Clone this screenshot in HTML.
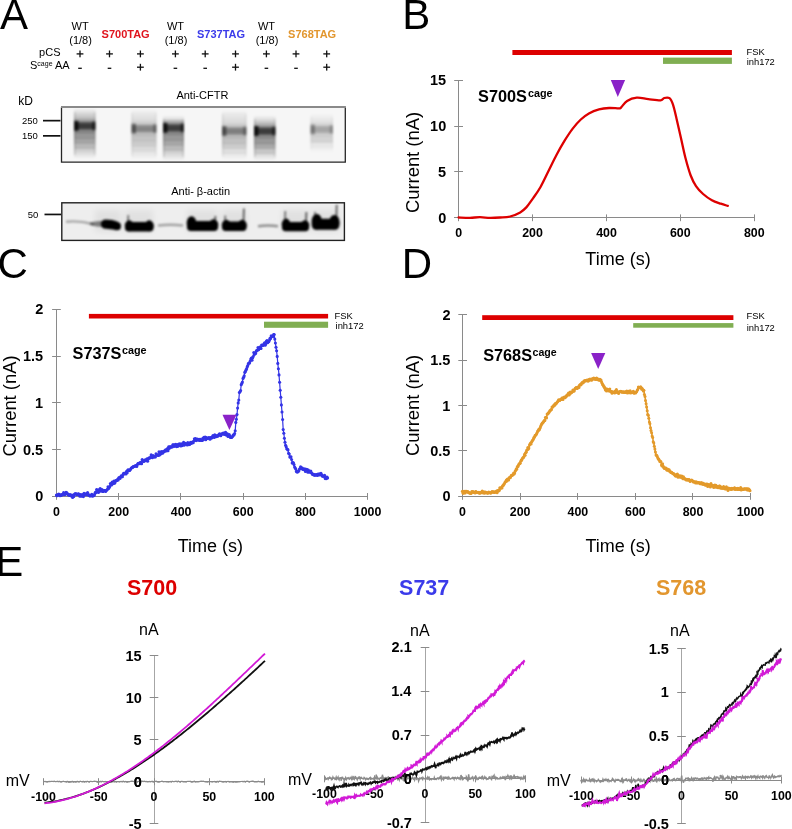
<!DOCTYPE html><html><head><meta charset="utf-8"><style>html,body{margin:0;padding:0;background:#fff;}svg{display:block;will-change:transform;}text{font-family:"Liberation Sans",sans-serif;}</style></head><body>
<svg width="792" height="829" viewBox="0 0 792 829">
<defs><filter id="bl1" x="-50%" y="-50%" width="200%" height="200%"><feGaussianBlur stdDeviation="1.9"/></filter><filter id="bl2" x="-50%" y="-50%" width="200%" height="200%"><feGaussianBlur stdDeviation="2.5"/></filter><filter id="bl05" x="-50%" y="-50%" width="200%" height="200%"><feGaussianBlur stdDeviation="0.8"/></filter></defs>
<rect width="792" height="829" fill="#fff"/>
<text x="-0.08" y="28.80" font-size="42" font-weight="normal" fill="#000" >A</text>
<text x="402.25" y="28.80" font-size="42" font-weight="normal" fill="#000" >B</text>
<text x="-2.63" y="277.90" font-size="42" font-weight="normal" fill="#000" >C</text>
<text x="401.85" y="277.90" font-size="42" font-weight="normal" fill="#000" >D</text>
<text x="-4.65" y="575.80" font-size="42" font-weight="normal" fill="#000" >E</text>
<text x="71.55" y="30.30" font-size="11" font-weight="normal" fill="#000" >WT</text>
<text x="69.29" y="43.60" font-size="11" font-weight="normal" fill="#000" >(1/8)</text>
<text x="166.95" y="30.30" font-size="11" font-weight="normal" fill="#000" >WT</text>
<text x="164.69" y="43.60" font-size="11" font-weight="normal" fill="#000" >(1/8)</text>
<text x="257.95" y="30.30" font-size="11" font-weight="normal" fill="#000" >WT</text>
<text x="255.69" y="43.60" font-size="11" font-weight="normal" fill="#000" >(1/8)</text>
<text x="101.58" y="38.00" font-size="11" font-weight="bold" fill="#e0141e" >S700TAG</text>
<text x="196.98" y="38.00" font-size="11" font-weight="bold" fill="#3b3bea" >S737TAG</text>
<text x="288.08" y="38.00" font-size="11" font-weight="bold" fill="#e2962e" >S768TAG</text>
<text x="39.11" y="56.30" font-size="11" font-weight="normal" fill="#000" >pCS</text>
<text x="30.0" y="68.9" font-size="11" fill="#000">S<tspan font-size="7" dy="-3.2">cage</tspan><tspan dy="3.2"> AA</tspan></text>
<rect x="76.60" y="53.25" width="6.8" height="1.3" fill="#111"/><rect x="79.35" y="50.50" width="1.3" height="6.8" fill="#111"/>
<rect x="78.20" y="67.65" width="3.6" height="1.3" fill="#111"/>
<rect x="106.10" y="53.25" width="6.8" height="1.3" fill="#111"/><rect x="108.85" y="50.50" width="1.3" height="6.8" fill="#111"/>
<rect x="107.70" y="67.65" width="3.6" height="1.3" fill="#111"/>
<rect x="137.00" y="53.25" width="6.8" height="1.3" fill="#111"/><rect x="139.75" y="50.50" width="1.3" height="6.8" fill="#111"/>
<rect x="137.00" y="66.55" width="6.8" height="1.3" fill="#111"/><rect x="139.75" y="63.80" width="1.3" height="6.8" fill="#111"/>
<rect x="172.00" y="53.25" width="6.8" height="1.3" fill="#111"/><rect x="174.75" y="50.50" width="1.3" height="6.8" fill="#111"/>
<rect x="173.60" y="67.65" width="3.6" height="1.3" fill="#111"/>
<rect x="201.80" y="53.25" width="6.8" height="1.3" fill="#111"/><rect x="204.55" y="50.50" width="1.3" height="6.8" fill="#111"/>
<rect x="203.40" y="67.65" width="3.6" height="1.3" fill="#111"/>
<rect x="232.10" y="53.25" width="6.8" height="1.3" fill="#111"/><rect x="234.85" y="50.50" width="1.3" height="6.8" fill="#111"/>
<rect x="232.10" y="66.55" width="6.8" height="1.3" fill="#111"/><rect x="234.85" y="63.80" width="1.3" height="6.8" fill="#111"/>
<rect x="263.00" y="53.25" width="6.8" height="1.3" fill="#111"/><rect x="265.75" y="50.50" width="1.3" height="6.8" fill="#111"/>
<rect x="264.60" y="67.65" width="3.6" height="1.3" fill="#111"/>
<rect x="292.60" y="53.25" width="6.8" height="1.3" fill="#111"/><rect x="295.35" y="50.50" width="1.3" height="6.8" fill="#111"/>
<rect x="294.20" y="67.65" width="3.6" height="1.3" fill="#111"/>
<rect x="323.30" y="53.25" width="6.8" height="1.3" fill="#111"/><rect x="326.05" y="50.50" width="1.3" height="6.8" fill="#111"/>
<rect x="323.30" y="66.55" width="6.8" height="1.3" fill="#111"/><rect x="326.05" y="63.80" width="1.3" height="6.8" fill="#111"/>
<text x="18.29" y="105.20" font-size="12" font-weight="normal" fill="#000" >kD</text>
<text x="22.02" y="124.20" font-size="9.5" font-weight="normal" fill="#000" >250</text>
<text x="22.02" y="139.40" font-size="9.5" font-weight="normal" fill="#000" >150</text>
<rect x="43" y="119.8" width="17.5" height="1.7" fill="#111"/>
<rect x="43" y="135.0" width="17.5" height="1.7" fill="#111"/>
<text x="176.38" y="99.10" font-size="11" font-weight="normal" fill="#000" >Anti-CFTR</text>
<rect x="61.5" y="107" width="283.8" height="55.2" fill="#f6f6f6"/>
<filter id="bl1b" x="-50%" y="-50%" width="200%" height="200%"><feGaussianBlur stdDeviation="1.2"/></filter>
<linearGradient id="lg1" gradientUnits="userSpaceOnUse" x1="0" y1="109" x2="0" y2="158"><stop offset="0.000" stop-color="#000" stop-opacity="0.020"/><stop offset="0.082" stop-color="#000" stop-opacity="0.110"/><stop offset="0.180" stop-color="#000" stop-opacity="0.220"/><stop offset="0.251" stop-color="#000" stop-opacity="0.400"/><stop offset="0.343" stop-color="#000" stop-opacity="0.620"/><stop offset="0.424" stop-color="#000" stop-opacity="0.500"/><stop offset="0.486" stop-color="#000" stop-opacity="0.400"/><stop offset="0.629" stop-color="#000" stop-opacity="0.340"/><stop offset="0.816" stop-color="#000" stop-opacity="0.180"/><stop offset="1.000" stop-color="#000" stop-opacity="0.020"/></linearGradient>
<g filter="url(#bl1b)">
<rect x="74.0" y="109" width="21.5" height="49" fill="url(#lg1)"/>
<rect x="74.0" y="122.3" width="21.5" height="7" fill="#000" opacity="0.440"/>
<rect x="74.0" y="120.8" width="4.5" height="10" fill="#000" opacity="0.750"/>
<rect x="92.0" y="121.3" width="3.5" height="9" fill="#000" opacity="0.450"/>
<rect x="74.0" y="112" width="1.6" height="43" fill="#000" opacity="0.120"/>
<rect x="93.9" y="112" width="1.6" height="43" fill="#000" opacity="0.100"/>
<rect x="75.0" y="131.8" width="19.5" height="1.8" fill="#000" opacity="0.100"/>
<rect x="75.0" y="136.8" width="19.5" height="1.8" fill="#000" opacity="0.100"/>
<rect x="75.0" y="141.8" width="19.5" height="1.8" fill="#000" opacity="0.100"/>
<rect x="75.0" y="146.8" width="19.5" height="1.8" fill="#000" opacity="0.100"/>
</g>
<linearGradient id="lg2" gradientUnits="userSpaceOnUse" x1="0" y1="110" x2="0" y2="159"><stop offset="0.000" stop-color="#000" stop-opacity="0.010"/><stop offset="0.082" stop-color="#000" stop-opacity="0.057"/><stop offset="0.216" stop-color="#000" stop-opacity="0.114"/><stop offset="0.288" stop-color="#000" stop-opacity="0.208"/><stop offset="0.380" stop-color="#000" stop-opacity="0.322"/><stop offset="0.461" stop-color="#000" stop-opacity="0.260"/><stop offset="0.522" stop-color="#000" stop-opacity="0.208"/><stop offset="0.665" stop-color="#000" stop-opacity="0.177"/><stop offset="0.816" stop-color="#000" stop-opacity="0.094"/><stop offset="1.000" stop-color="#000" stop-opacity="0.010"/></linearGradient>
<g filter="url(#bl1b)">
<rect x="131.5" y="110" width="25.0" height="49" fill="url(#lg2)"/>
<rect x="131.5" y="125.1" width="25.0" height="7" fill="#000" opacity="0.229"/>
<rect x="131.5" y="123.6" width="4.5" height="10" fill="#000" opacity="0.390"/>
<rect x="153.0" y="124.1" width="3.5" height="9" fill="#000" opacity="0.234"/>
<rect x="131.5" y="113" width="1.6" height="43" fill="#000" opacity="0.062"/>
<rect x="154.9" y="113" width="1.6" height="43" fill="#000" opacity="0.052"/>
<rect x="132.5" y="134.6" width="23.0" height="1.8" fill="#000" opacity="0.052"/>
<rect x="132.5" y="139.6" width="23.0" height="1.8" fill="#000" opacity="0.052"/>
<rect x="132.5" y="144.6" width="23.0" height="1.8" fill="#000" opacity="0.052"/>
<rect x="132.5" y="149.6" width="23.0" height="1.8" fill="#000" opacity="0.052"/>
</g>
<linearGradient id="lg3" gradientUnits="userSpaceOnUse" x1="0" y1="116" x2="0" y2="160"><stop offset="0.000" stop-color="#000" stop-opacity="0.020"/><stop offset="0.091" stop-color="#000" stop-opacity="0.108"/><stop offset="0.086" stop-color="#000" stop-opacity="0.216"/><stop offset="0.166" stop-color="#000" stop-opacity="0.392"/><stop offset="0.268" stop-color="#000" stop-opacity="0.608"/><stop offset="0.359" stop-color="#000" stop-opacity="0.490"/><stop offset="0.427" stop-color="#000" stop-opacity="0.392"/><stop offset="0.586" stop-color="#000" stop-opacity="0.333"/><stop offset="0.795" stop-color="#000" stop-opacity="0.176"/><stop offset="1.000" stop-color="#000" stop-opacity="0.020"/></linearGradient>
<g filter="url(#bl1b)">
<rect x="163.0" y="116" width="21.0" height="44" fill="url(#lg3)"/>
<rect x="163.0" y="124.3" width="21.0" height="7" fill="#000" opacity="0.431"/>
<rect x="163.0" y="122.8" width="4.5" height="10" fill="#000" opacity="0.735"/>
<rect x="180.5" y="123.3" width="3.5" height="9" fill="#000" opacity="0.441"/>
<rect x="163.0" y="119" width="1.6" height="38" fill="#000" opacity="0.118"/>
<rect x="182.4" y="119" width="1.6" height="38" fill="#000" opacity="0.098"/>
<rect x="164.0" y="133.8" width="19.0" height="1.8" fill="#000" opacity="0.098"/>
<rect x="164.0" y="138.8" width="19.0" height="1.8" fill="#000" opacity="0.098"/>
<rect x="164.0" y="143.8" width="19.0" height="1.8" fill="#000" opacity="0.098"/>
<rect x="164.0" y="148.8" width="19.0" height="1.8" fill="#000" opacity="0.098"/>
</g>
<linearGradient id="lg4" gradientUnits="userSpaceOnUse" x1="0" y1="111" x2="0" y2="159"><stop offset="0.000" stop-color="#000" stop-opacity="0.011"/><stop offset="0.083" stop-color="#000" stop-opacity="0.061"/><stop offset="0.250" stop-color="#000" stop-opacity="0.121"/><stop offset="0.323" stop-color="#000" stop-opacity="0.220"/><stop offset="0.417" stop-color="#000" stop-opacity="0.341"/><stop offset="0.500" stop-color="#000" stop-opacity="0.275"/><stop offset="0.562" stop-color="#000" stop-opacity="0.220"/><stop offset="0.708" stop-color="#000" stop-opacity="0.187"/><stop offset="0.812" stop-color="#000" stop-opacity="0.099"/><stop offset="1.000" stop-color="#000" stop-opacity="0.011"/></linearGradient>
<g filter="url(#bl1b)">
<rect x="222.0" y="111" width="24.5" height="48" fill="url(#lg4)"/>
<rect x="222.0" y="127.5" width="24.5" height="7" fill="#000" opacity="0.242"/>
<rect x="222.0" y="126.0" width="4.5" height="10" fill="#000" opacity="0.413"/>
<rect x="243.0" y="126.5" width="3.5" height="9" fill="#000" opacity="0.248"/>
<rect x="222.0" y="114" width="1.6" height="42" fill="#000" opacity="0.066"/>
<rect x="244.9" y="114" width="1.6" height="42" fill="#000" opacity="0.055"/>
<rect x="223.0" y="137.0" width="22.5" height="1.8" fill="#000" opacity="0.055"/>
<rect x="223.0" y="142.0" width="22.5" height="1.8" fill="#000" opacity="0.055"/>
<rect x="223.0" y="147.0" width="22.5" height="1.8" fill="#000" opacity="0.055"/>
<rect x="223.0" y="152.0" width="22.5" height="1.8" fill="#000" opacity="0.055"/>
</g>
<linearGradient id="lg5" gradientUnits="userSpaceOnUse" x1="0" y1="116" x2="0" y2="160"><stop offset="0.000" stop-color="#000" stop-opacity="0.020"/><stop offset="0.091" stop-color="#000" stop-opacity="0.108"/><stop offset="0.159" stop-color="#000" stop-opacity="0.216"/><stop offset="0.239" stop-color="#000" stop-opacity="0.392"/><stop offset="0.341" stop-color="#000" stop-opacity="0.608"/><stop offset="0.432" stop-color="#000" stop-opacity="0.490"/><stop offset="0.500" stop-color="#000" stop-opacity="0.392"/><stop offset="0.659" stop-color="#000" stop-opacity="0.333"/><stop offset="0.795" stop-color="#000" stop-opacity="0.176"/><stop offset="1.000" stop-color="#000" stop-opacity="0.020"/></linearGradient>
<g filter="url(#bl1b)">
<rect x="254.0" y="116" width="21.5" height="44" fill="url(#lg5)"/>
<rect x="254.0" y="127.5" width="21.5" height="7" fill="#000" opacity="0.431"/>
<rect x="254.0" y="126.0" width="4.5" height="10" fill="#000" opacity="0.735"/>
<rect x="272.0" y="126.5" width="3.5" height="9" fill="#000" opacity="0.441"/>
<rect x="254.0" y="119" width="1.6" height="38" fill="#000" opacity="0.118"/>
<rect x="273.9" y="119" width="1.6" height="38" fill="#000" opacity="0.098"/>
<rect x="255.0" y="137.0" width="19.5" height="1.8" fill="#000" opacity="0.098"/>
<rect x="255.0" y="142.0" width="19.5" height="1.8" fill="#000" opacity="0.098"/>
<rect x="255.0" y="147.0" width="19.5" height="1.8" fill="#000" opacity="0.098"/>
<rect x="255.0" y="152.0" width="19.5" height="1.8" fill="#000" opacity="0.098"/>
</g>
<linearGradient id="lg6" gradientUnits="userSpaceOnUse" x1="0" y1="114" x2="0" y2="152"><stop offset="0.000" stop-color="#000" stop-opacity="0.007"/><stop offset="0.105" stop-color="#000" stop-opacity="0.040"/><stop offset="0.195" stop-color="#000" stop-opacity="0.079"/><stop offset="0.287" stop-color="#000" stop-opacity="0.144"/><stop offset="0.405" stop-color="#000" stop-opacity="0.223"/><stop offset="0.511" stop-color="#000" stop-opacity="0.180"/><stop offset="0.589" stop-color="#000" stop-opacity="0.144"/><stop offset="0.774" stop-color="#000" stop-opacity="0.122"/><stop offset="0.763" stop-color="#000" stop-opacity="0.065"/><stop offset="1.000" stop-color="#000" stop-opacity="0.007"/></linearGradient>
<g filter="url(#bl1b)">
<rect x="310.5" y="114" width="22.5" height="38" fill="url(#lg6)"/>
<rect x="310.5" y="125.9" width="22.5" height="7" fill="#000" opacity="0.149"/>
<rect x="310.5" y="124.4" width="4.5" height="10" fill="#000" opacity="0.270"/>
<rect x="329.5" y="124.9" width="3.5" height="9" fill="#000" opacity="0.162"/>
<rect x="310.5" y="117" width="1.6" height="32" fill="#000" opacity="0.043"/>
<rect x="331.4" y="117" width="1.6" height="32" fill="#000" opacity="0.036"/>
<rect x="311.5" y="135.4" width="20.5" height="1.8" fill="#000" opacity="0.036"/>
<rect x="311.5" y="140.4" width="20.5" height="1.8" fill="#000" opacity="0.036"/>
<rect x="311.5" y="145.4" width="20.5" height="1.8" fill="#000" opacity="0.036"/>
</g>
<path d="M61.5,107.2 L61.5,162.2 L345.3,162.2 L345.3,107.2" fill="none" stroke="#262626" stroke-width="1.3"/>
<line x1="61" y1="107" x2="345.9" y2="107" stroke="#8a8a8a" stroke-width="2"/>
<text x="171.18" y="195.00" font-size="11" font-weight="normal" fill="#000" >Anti- β-actin</text>
<text x="27.80" y="217.90" font-size="9.5" font-weight="normal" fill="#000" >50</text>
<rect x="44.5" y="213.6" width="16.5" height="1.7" fill="#111"/>
<rect x="61.8" y="202.8" width="282.6" height="37.6" fill="#eeeeee" stroke="#222" stroke-width="1.4"/>
<filter id="bla" x="-50%" y="-50%" width="200%" height="200%"><feGaussianBlur stdDeviation="1.05"/></filter>
<filter id="blh" x="-50%" y="-50%" width="200%" height="200%"><feGaussianBlur stdDeviation="3"/></filter>
<g filter="url(#blh)" opacity="0.05">
<rect x="95" y="210" width="26" height="22" fill="#000"/>
<rect x="125" y="210" width="28" height="22" fill="#000"/>
<rect x="187" y="210" width="31" height="22" fill="#000"/>
<rect x="222" y="210" width="24" height="22" fill="#000"/>
<rect x="282" y="210" width="27" height="22" fill="#000"/>
<rect x="312" y="210" width="27" height="22" fill="#000"/>
</g>
<g filter="url(#bla)">
<path d="M66,221.8 Q80.0,220.3 94,224.5" fill="none" stroke="#000" stroke-width="2.4" opacity="0.3"/>
<path d="M90,222.5 Q96,220.5 103,221 L103,227 Q96,227 90,225 Z" fill="#000" opacity="0.45"/>
<path d="M101,224 Q101,219.5 106,219.5 L112,220 Q117,221 120,223 Q122,226 120,229.5 Q117,231 113,229.5 L106,228.8 Q101,228.5 101,224 Z" fill="#000"/>
<rect x="125.0" y="222.1" width="28.5" height="9.5" rx="3.8" fill="#000" opacity="1.0"/>
<ellipse cx="129.3" cy="225.8" rx="4.5" ry="5.5" fill="#000" opacity="1.0"/>
<ellipse cx="149.2" cy="225.8" rx="4.5" ry="5.5" fill="#000" opacity="1.0"/>
<path d="M128.0,223.1 L128.3,215.1" stroke="#000" stroke-width="1.5" opacity="0.6"/>
<path d="M158,225.5 Q170.5,224.0 183,225.5" fill="none" stroke="#000" stroke-width="2.4" opacity="0.32"/>
<rect x="187.0" y="221.0" width="31.0" height="10" rx="4.0" fill="#000" opacity="1.0"/>
<ellipse cx="191.5" cy="223.5" rx="4.8" ry="7.3" fill="#000" opacity="1.0"/>
<ellipse cx="213.5" cy="225.0" rx="4.8" ry="5.8" fill="#000" opacity="1.0"/>
<path d="M190.0,222.0 L190.3,217.0" stroke="#000" stroke-width="1.5" opacity="0.6"/>
<path d="M215.0,222.0 L215.4,216.0" stroke="#000" stroke-width="1.7" opacity="0.65"/>
<rect x="222.0" y="221.6" width="24.5" height="9.5" rx="3.8" fill="#000" opacity="1.0"/>
<ellipse cx="226.3" cy="225.3" rx="4.5" ry="5.5" fill="#000" opacity="1.0"/>
<ellipse cx="242.2" cy="225.3" rx="4.5" ry="5.5" fill="#000" opacity="1.0"/>
<path d="M225.0,222.6 L225.3,215.6" stroke="#000" stroke-width="1.5" opacity="0.6"/>
<path d="M243.5,222.6 L243.9,208.6" stroke="#000" stroke-width="1.7" opacity="0.65"/>
<path d="M258,226.2 Q268.0,224.7 278,226.2" fill="none" stroke="#000" stroke-width="2.4" opacity="0.4"/>
<rect x="282.0" y="222.0" width="27.0" height="9.2" rx="3.7" fill="#000" opacity="1.0"/>
<ellipse cx="286.1" cy="224.8" rx="4.4" ry="6.2" fill="#000" opacity="1.0"/>
<ellipse cx="304.9" cy="225.6" rx="4.4" ry="5.4" fill="#000" opacity="1.0"/>
<path d="M285.0,223.0 L285.3,211.0" stroke="#000" stroke-width="1.5" opacity="0.6"/>
<path d="M306.0,223.0 L306.4,212.0" stroke="#000" stroke-width="1.7" opacity="0.65"/>
<rect x="311.8" y="218.7" width="27.5" height="11" rx="4.4" fill="#000" opacity="1.0"/>
<ellipse cx="316.8" cy="221.7" rx="5.2" ry="7.8" fill="#000" opacity="1.0"/>
<ellipse cx="334.4" cy="222.2" rx="5.2" ry="7.3" fill="#000" opacity="1.0"/>
<path d="M314.8,219.7 L315.1,211.7" stroke="#000" stroke-width="1.5" opacity="0.6"/>
<path d="M336.3,219.7 L336.7,204.7" stroke="#000" stroke-width="1.7" opacity="0.65"/>
</g>
<line x1="458.50" y1="80.20" x2="458.50" y2="217.70" stroke="#8a8a8a" stroke-width="1"/>
<line x1="454.20" y1="217.50" x2="463.00" y2="217.50" stroke="#8a8a8a" stroke-width="1"/>
<text x="438.13" y="222.70" font-size="14.5" font-weight="bold" fill="#000" >0</text>
<line x1="454.20" y1="171.50" x2="463.00" y2="171.50" stroke="#8a8a8a" stroke-width="1"/>
<text x="437.94" y="176.87" font-size="14.5" font-weight="bold" fill="#000" >5</text>
<line x1="454.20" y1="126.50" x2="463.00" y2="126.50" stroke="#8a8a8a" stroke-width="1"/>
<text x="430.07" y="131.04" font-size="14.5" font-weight="bold" fill="#000" >10</text>
<line x1="454.20" y1="80.50" x2="463.00" y2="80.50" stroke="#8a8a8a" stroke-width="1"/>
<text x="429.88" y="85.21" font-size="14.5" font-weight="bold" fill="#000" >15</text>
<line x1="454.20" y1="217.50" x2="754.50" y2="217.50" stroke="#8a8a8a" stroke-width="1"/>
<line x1="458.50" y1="214.40" x2="458.50" y2="221.20" stroke="#8a8a8a" stroke-width="1"/>
<text x="455.16" y="236.50" font-size="12.4" font-weight="bold" fill="#000" >0</text>
<line x1="532.50" y1="214.40" x2="532.50" y2="221.20" stroke="#8a8a8a" stroke-width="1"/>
<text x="522.19" y="236.50" font-size="12.4" font-weight="bold" fill="#000" >200</text>
<line x1="606.50" y1="214.40" x2="606.50" y2="221.20" stroke="#8a8a8a" stroke-width="1"/>
<text x="596.22" y="236.50" font-size="12.4" font-weight="bold" fill="#000" >400</text>
<line x1="680.50" y1="214.40" x2="680.50" y2="221.20" stroke="#8a8a8a" stroke-width="1"/>
<text x="669.98" y="236.50" font-size="12.4" font-weight="bold" fill="#000" >600</text>
<line x1="754.50" y1="214.40" x2="754.50" y2="221.20" stroke="#8a8a8a" stroke-width="1"/>
<text x="743.91" y="236.50" font-size="12.4" font-weight="bold" fill="#000" >800</text>
<rect x="512.4" y="50" width="219.5" height="5" fill="#dd0000"/>
<rect x="663" y="57.6" width="68.9" height="6.3" fill="#80ae52"/>
<text x="746.53" y="54.50" font-size="9.4" font-weight="normal" fill="#000" >FSK</text>
<text x="746.67" y="65.00" font-size="9.4" font-weight="normal" fill="#000" >inh172</text>
<text x="478.03" y="101.80" font-size="16.3" font-weight="bold" fill="#000" >S700S</text>
<text x="527.88" y="97.00" font-size="10.8" font-weight="bold" fill="#000" >cage</text>
<polygon points="610.8,80.1 625.1,80.1 617.8,96.9" fill="#8a22c8"/>
<text x="585.36" y="264.90" font-size="18" font-weight="normal" fill="#000" >Time (s)</text>
<text transform="translate(418.5,162.5) rotate(-90)" text-anchor="middle" font-size="18.4" fill="#000">Current (nA)</text>
<path d="M458.60,217.50 C460.50,217.55 466.43,217.85 470.00,217.80 C473.57,217.75 476.67,217.18 480.00,217.20 C483.33,217.22 486.67,217.85 490.00,217.90 C493.33,217.95 496.65,217.73 500.00,217.50 C503.35,217.27 506.73,217.35 510.10,216.50 C513.47,215.65 517.50,213.92 520.20,212.40 C522.90,210.88 524.28,209.58 526.30,207.40 C528.32,205.22 529.95,202.67 532.30,199.30 C534.65,195.93 537.70,191.92 540.40,187.20 C543.10,182.48 545.80,176.40 548.50,171.00 C551.20,165.60 553.92,159.85 556.60,154.80 C559.28,149.75 561.92,145.07 564.60,140.70 C567.28,136.33 570.00,132.13 572.70,128.60 C575.40,125.07 578.10,122.03 580.80,119.50 C583.50,116.97 585.87,115.08 588.90,113.40 C591.93,111.72 595.63,110.30 599.00,109.40 C602.37,108.50 605.73,108.17 609.10,108.00 C612.47,107.83 617.18,108.50 619.20,108.40 C621.22,108.30 619.88,108.65 621.20,107.40 C622.52,106.15 624.50,102.52 627.10,100.90 C629.70,99.28 633.27,98.00 636.80,97.70 C640.33,97.40 644.32,98.67 648.30,99.10 C652.28,99.53 658.05,100.48 660.70,100.30 C663.35,100.12 662.73,98.35 664.20,98.00 C665.67,97.65 668.03,97.08 669.50,98.20 C670.97,99.32 671.82,101.25 673.00,104.70 C674.18,108.15 675.27,113.30 676.60,118.90 C677.93,124.50 679.53,131.82 681.00,138.30 C682.47,144.78 683.78,151.60 685.40,157.80 C687.02,164.00 688.93,170.78 690.70,175.50 C692.47,180.22 693.93,183.02 696.00,186.10 C698.07,189.18 700.45,191.65 703.10,194.00 C705.75,196.35 708.95,198.58 711.90,200.20 C714.85,201.82 718.15,202.75 720.80,203.70 C723.45,204.65 726.63,205.53 727.80,205.90" fill="none" stroke="#dd0000" stroke-width="2.3" stroke-linejoin="round" stroke-linecap="round"/>
<line x1="56.50" y1="309.30" x2="56.50" y2="496.30" stroke="#8a8a8a" stroke-width="1"/>
<line x1="52.10" y1="496.50" x2="60.80" y2="496.50" stroke="#8a8a8a" stroke-width="1"/>
<text x="35.23" y="501.30" font-size="14.5" font-weight="bold" fill="#000" >0</text>
<line x1="52.10" y1="449.50" x2="60.80" y2="449.50" stroke="#8a8a8a" stroke-width="1"/>
<text x="22.95" y="454.55" font-size="14.5" font-weight="bold" fill="#000" >0.5</text>
<line x1="52.10" y1="402.50" x2="60.80" y2="402.50" stroke="#8a8a8a" stroke-width="1"/>
<text x="35.04" y="407.80" font-size="14.5" font-weight="bold" fill="#000" >1</text>
<line x1="52.10" y1="356.50" x2="60.80" y2="356.50" stroke="#8a8a8a" stroke-width="1"/>
<text x="22.95" y="361.05" font-size="14.5" font-weight="bold" fill="#000" >1.5</text>
<line x1="52.10" y1="309.50" x2="60.80" y2="309.50" stroke="#8a8a8a" stroke-width="1"/>
<text x="35.22" y="314.30" font-size="14.5" font-weight="bold" fill="#000" >2</text>
<line x1="52.10" y1="496.50" x2="367.70" y2="496.50" stroke="#8a8a8a" stroke-width="1"/>
<line x1="56.50" y1="493.00" x2="56.50" y2="499.80" stroke="#8a8a8a" stroke-width="1"/>
<text x="52.96" y="515.80" font-size="12.4" font-weight="bold" fill="#000" >0</text>
<line x1="118.50" y1="493.00" x2="118.50" y2="499.80" stroke="#8a8a8a" stroke-width="1"/>
<text x="108.35" y="515.80" font-size="12.4" font-weight="bold" fill="#000" >200</text>
<line x1="180.50" y1="493.00" x2="180.50" y2="499.80" stroke="#8a8a8a" stroke-width="1"/>
<text x="170.74" y="515.80" font-size="12.4" font-weight="bold" fill="#000" >400</text>
<line x1="243.50" y1="493.00" x2="243.50" y2="499.80" stroke="#8a8a8a" stroke-width="1"/>
<text x="232.86" y="515.80" font-size="12.4" font-weight="bold" fill="#000" >600</text>
<line x1="305.50" y1="493.00" x2="305.50" y2="499.80" stroke="#8a8a8a" stroke-width="1"/>
<text x="295.15" y="515.80" font-size="12.4" font-weight="bold" fill="#000" >800</text>
<line x1="367.50" y1="493.00" x2="367.50" y2="499.80" stroke="#8a8a8a" stroke-width="1"/>
<text x="353.77" y="515.80" font-size="12.4" font-weight="bold" fill="#000" >1000</text>
<rect x="88.9" y="313.9" width="239.2" height="4.6" fill="#dd0000"/>
<rect x="264" y="321.7" width="64.1" height="6.1" fill="#80ae52"/>
<text x="334.53" y="319.20" font-size="9.4" font-weight="normal" fill="#000" >FSK</text>
<text x="335.57" y="329.30" font-size="9.4" font-weight="normal" fill="#000" >inh172</text>
<text x="72.53" y="359.40" font-size="16.3" font-weight="bold" fill="#000" >S737S</text>
<text x="121.88" y="354.20" font-size="10.8" font-weight="bold" fill="#000" >cage</text>
<text x="177.76" y="552.20" font-size="18" font-weight="normal" fill="#000" >Time (s)</text>
<text transform="translate(16.0,406) rotate(-90)" text-anchor="middle" font-size="18.4" fill="#000">Current (nA)</text>
<path d="M56.40,495.07 L57.00,495.66 L57.60,494.90 L58.20,494.72 L58.80,494.07 L59.40,494.61 L60.00,495.71 L60.60,494.99 L61.20,495.44 L61.80,494.63 L62.40,494.67 L63.00,494.38 L63.60,492.61 L64.20,494.78 L64.80,494.37 L65.40,494.27 L66.00,492.42 L66.60,492.55 L67.20,493.50 L67.80,494.05 L68.40,494.93 L69.00,494.79 L69.60,495.47 L70.20,494.60 L70.80,495.63 L71.40,495.89 L72.00,495.11 L72.60,497.43 L73.20,496.36 L73.80,496.51 L74.40,494.45 L75.00,493.92 L75.60,493.85 L76.20,493.74 L76.80,494.63 L77.40,494.50 L78.00,494.09 L78.60,493.86 L79.20,494.47 L79.80,496.26 L80.40,494.65 L81.00,495.82 L81.60,496.20 L82.20,494.62 L82.80,495.75 L83.40,496.64 L84.00,493.40 L84.60,494.67 L85.20,494.62 L85.80,493.73 L86.40,494.66 L87.00,493.91 L87.60,492.56 L88.20,494.85 L88.80,494.94 L89.40,495.42 L90.00,496.09 L90.60,495.35 L91.20,495.36 L91.80,494.31 L92.40,496.27 L93.00,495.39 L93.60,495.76 L94.20,495.26 L94.80,493.69 L95.40,492.25 L96.00,492.63 L96.60,489.56 L97.20,489.99 L97.80,491.43 L98.40,492.43 L99.00,491.57 L99.60,489.25 L100.20,488.61 L100.80,491.11 L101.40,490.04 L102.00,489.61 L102.60,491.42 L103.20,491.44 L103.80,490.51 L104.40,490.50 L105.00,490.59 L105.60,491.55 L106.20,490.59 L106.80,490.00 L107.40,489.32 L108.00,486.70 L108.60,488.56 L109.20,487.56 L109.80,486.47 L110.40,483.51 L111.00,484.05 L111.60,484.90 L112.20,482.03 L112.80,483.01 L113.40,483.61 L114.00,481.03 L114.60,483.18 L115.20,481.75 L115.80,480.63 L116.40,480.58 L117.00,480.39 L117.60,479.43 L118.20,479.87 L118.80,477.77 L119.40,477.52 L120.00,478.35 L120.60,476.97 L121.20,475.68 L121.80,476.85 L122.40,476.84 L123.00,474.65 L123.60,473.33 L124.20,473.98 L124.80,473.49 L125.40,472.88 L126.00,473.94 L126.60,471.23 L127.20,472.76 L127.80,469.96 L128.40,469.86 L129.00,470.61 L129.60,470.52 L130.20,469.75 L130.80,468.76 L131.40,468.05 L132.00,467.53 L132.60,467.54 L133.20,466.52 L133.80,466.59 L134.40,466.52 L135.00,465.67 L135.60,466.02 L136.20,465.50 L136.80,466.47 L137.40,464.61 L138.00,463.60 L138.60,463.31 L139.20,463.29 L139.80,463.80 L140.40,462.35 L141.00,462.70 L141.60,463.71 L142.20,459.45 L142.80,460.45 L143.40,461.39 L144.00,461.23 L144.60,460.79 L145.20,459.89 L145.80,460.57 L146.40,459.94 L147.00,458.91 L147.60,461.27 L148.20,459.11 L148.80,457.99 L149.40,458.11 L150.00,457.70 L150.60,457.58 L151.20,454.94 L151.80,456.71 L152.40,457.81 L153.00,455.61 L153.60,456.36 L154.20,457.03 L154.80,456.70 L155.40,457.03 L156.00,453.91 L156.60,454.88 L157.20,454.65 L157.80,455.28 L158.40,455.45 L159.00,451.81 L159.60,454.96 L160.20,452.44 L160.80,453.97 L161.40,451.59 L162.00,452.68 L162.60,453.18 L163.20,451.56 L163.80,451.45 L164.40,451.58 L165.00,450.57 L165.60,449.95 L166.20,450.99 L166.80,450.14 L167.40,448.51 L168.00,450.83 L168.60,446.92 L169.20,448.35 L169.80,446.88 L170.40,446.82 L171.00,447.21 L171.60,446.65 L172.20,446.90 L172.80,444.83 L173.40,444.72 L174.00,446.50 L174.60,444.96 L175.20,444.78 L175.80,444.25 L176.40,446.59 L177.00,446.00 L177.60,446.53 L178.20,444.23 L178.80,444.95 L179.40,443.80 L180.00,445.39 L180.60,446.01 L181.20,443.69 L181.80,445.80 L182.40,445.19 L183.00,444.04 L183.60,442.33 L184.20,445.28 L184.80,443.83 L185.40,443.28 L186.00,444.09 L186.60,444.00 L187.20,444.89 L187.80,442.53 L188.40,444.37 L189.00,444.59 L189.60,444.47 L190.20,442.90 L190.80,442.22 L191.40,443.47 L192.00,442.32 L192.60,442.00 L193.20,442.83 L193.80,440.98 L194.40,438.81 L195.00,440.20 L195.60,438.54 L196.20,440.62 L196.80,439.88 L197.40,438.98 L198.00,439.46 L198.60,440.16 L199.20,439.42 L199.80,440.49 L200.40,439.18 L201.00,440.11 L201.60,440.46 L202.20,440.50 L202.80,438.39 L203.40,439.73 L204.00,437.19 L204.60,437.84 L205.20,436.99 L205.80,439.66 L206.40,437.53 L207.00,438.53 L207.60,438.19 L208.20,438.16 L208.80,437.47 L209.40,438.04 L210.00,439.26 L210.60,437.51 L211.20,437.77 L211.80,438.02 L212.40,436.76 L213.00,435.62 L213.60,436.08 L214.20,437.37 L214.80,434.74 L215.40,435.51 L216.00,436.77 L216.60,436.40 L217.20,435.55 L217.80,436.16 L218.40,435.47 L219.00,434.15 L219.60,433.69 L220.20,434.41 L220.80,435.71 L221.40,434.26 L222.00,433.84 L222.60,433.85 L223.20,433.05 L223.80,434.22 L224.40,433.15 L225.00,434.43 L225.60,432.33 L226.20,435.10 L226.80,434.57 L227.40,433.75 L228.00,436.50 L228.60,435.95 L229.20,434.54 L229.80,436.11 L230.40,437.51 L231.00,437.19 L231.60,437.54 L232.20,436.74 L232.80,435.90 L233.40,434.83 L234.00,434.98 L234.60,433.60 L235.20,430.84 L235.80,422.36 L236.40,419.23 L237.00,414.59 L237.60,408.12 L238.20,402.94 L238.80,400.09 L239.40,392.48 L240.00,391.66 L240.60,390.60 L241.20,384.77 L241.80,383.40 L242.40,382.01 L243.00,378.43 L243.60,377.27 L244.20,375.81 L244.80,372.41 L245.40,371.38 L246.00,369.95 L246.60,368.94 L247.20,366.95 L247.80,365.59 L248.40,363.63 L249.00,363.01 L249.60,362.92 L250.20,360.99 L250.80,359.10 L251.40,358.12 L252.00,360.29 L252.60,357.92 L253.20,356.47 L253.80,352.57 L254.40,354.47 L255.00,353.35 L255.60,353.44 L256.20,351.32 L256.80,350.21 L257.40,350.24 L258.00,347.52 L258.60,349.70 L259.20,348.56 L259.80,347.13 L260.40,348.46 L261.00,348.40 L261.60,345.00 L262.20,345.17 L262.80,345.53 L263.40,344.93 L264.00,343.90 L264.60,342.88 L265.20,345.17 L265.80,343.69 L266.40,341.18 L267.00,340.54 L267.60,342.79 L268.20,341.64 L268.80,341.84 L269.40,340.33 L270.00,338.22 L270.60,338.63 L271.20,335.86 L271.80,336.53 L272.40,336.55 L273.00,336.47 L273.60,334.60 L274.20,334.55 L274.80,339.06 L275.40,342.97 L276.00,347.19 L276.60,350.79 L277.20,356.37 L277.80,363.43 L278.40,368.82 L279.00,374.90 L279.60,382.34 L280.20,390.16 L280.80,397.33 L281.40,404.86 L282.00,412.01 L282.60,419.46 L283.20,429.55 L283.80,433.20 L284.40,438.24 L285.00,442.34 L285.60,445.30 L286.20,446.66 L286.80,448.83 L287.40,449.15 L288.00,449.91 L288.60,453.27 L289.20,453.97 L289.80,457.07 L290.40,457.02 L291.00,456.85 L291.60,459.49 L292.20,463.06 L292.80,462.51 L293.40,462.83 L294.00,464.59 L294.60,466.96 L295.20,468.14 L295.80,469.03 L296.40,471.38 L297.00,471.86 L297.60,471.98 L298.20,471.31 L298.80,471.03 L299.40,469.19 L300.00,468.48 L300.60,466.76 L301.20,467.78 L301.80,468.75 L302.40,468.00 L303.00,469.41 L303.60,469.16 L304.20,469.61 L304.80,468.78 L305.40,471.44 L306.00,470.44 L306.60,469.31 L307.20,469.76 L307.80,472.28 L308.40,470.09 L309.00,471.63 L309.60,472.17 L310.20,471.75 L310.80,471.14 L311.40,472.80 L312.00,473.41 L312.60,474.55 L313.20,474.68 L313.80,474.45 L314.40,475.32 L315.00,475.10 L315.60,474.86 L316.20,474.78 L316.80,474.57 L317.40,475.47 L318.00,473.97 L318.60,474.41 L319.20,475.04 L319.80,473.78 L320.40,474.77 L321.00,473.41 L321.60,474.67 L322.20,476.01 L322.80,476.31 L323.40,476.05 L324.00,476.19 L324.60,475.42 L325.20,478.65 L325.80,477.76 L326.40,478.58 L327.00,477.11 L327.60,478.03" fill="none" stroke="#3434e6" stroke-width="1.2" stroke-linejoin="round"/>
<g fill="#3434e6"><circle cx="56.4" cy="495.1" r="1.55"/><circle cx="57.0" cy="495.7" r="1.55"/><circle cx="57.6" cy="494.9" r="1.55"/><circle cx="58.2" cy="494.7" r="1.55"/><circle cx="58.8" cy="494.1" r="1.55"/><circle cx="59.4" cy="494.6" r="1.55"/><circle cx="60.0" cy="495.7" r="1.55"/><circle cx="60.6" cy="495.0" r="1.55"/><circle cx="61.2" cy="495.4" r="1.55"/><circle cx="61.8" cy="494.6" r="1.55"/><circle cx="62.4" cy="494.7" r="1.55"/><circle cx="63.0" cy="494.4" r="1.55"/><circle cx="63.6" cy="492.6" r="1.55"/><circle cx="64.2" cy="494.8" r="1.55"/><circle cx="64.8" cy="494.4" r="1.55"/><circle cx="65.4" cy="494.3" r="1.55"/><circle cx="66.0" cy="492.4" r="1.55"/><circle cx="66.6" cy="492.6" r="1.55"/><circle cx="67.2" cy="493.5" r="1.55"/><circle cx="67.8" cy="494.1" r="1.55"/><circle cx="68.4" cy="494.9" r="1.55"/><circle cx="69.0" cy="494.8" r="1.55"/><circle cx="69.6" cy="495.5" r="1.55"/><circle cx="70.2" cy="494.6" r="1.55"/><circle cx="70.8" cy="495.6" r="1.55"/><circle cx="71.4" cy="495.9" r="1.55"/><circle cx="72.0" cy="495.1" r="1.55"/><circle cx="72.6" cy="497.4" r="1.55"/><circle cx="73.2" cy="496.4" r="1.55"/><circle cx="73.8" cy="496.5" r="1.55"/><circle cx="74.4" cy="494.4" r="1.55"/><circle cx="75.0" cy="493.9" r="1.55"/><circle cx="75.6" cy="493.8" r="1.55"/><circle cx="76.2" cy="493.7" r="1.55"/><circle cx="76.8" cy="494.6" r="1.55"/><circle cx="77.4" cy="494.5" r="1.55"/><circle cx="78.0" cy="494.1" r="1.55"/><circle cx="78.6" cy="493.9" r="1.55"/><circle cx="79.2" cy="494.5" r="1.55"/><circle cx="79.8" cy="496.3" r="1.55"/><circle cx="80.4" cy="494.6" r="1.55"/><circle cx="81.0" cy="495.8" r="1.55"/><circle cx="81.6" cy="496.2" r="1.55"/><circle cx="82.2" cy="494.6" r="1.55"/><circle cx="82.8" cy="495.8" r="1.55"/><circle cx="83.4" cy="496.6" r="1.55"/><circle cx="84.0" cy="493.4" r="1.55"/><circle cx="84.6" cy="494.7" r="1.55"/><circle cx="85.2" cy="494.6" r="1.55"/><circle cx="85.8" cy="493.7" r="1.55"/><circle cx="86.4" cy="494.7" r="1.55"/><circle cx="87.0" cy="493.9" r="1.55"/><circle cx="87.6" cy="492.6" r="1.55"/><circle cx="88.2" cy="494.9" r="1.55"/><circle cx="88.8" cy="494.9" r="1.55"/><circle cx="89.4" cy="495.4" r="1.55"/><circle cx="90.0" cy="496.1" r="1.55"/><circle cx="90.6" cy="495.3" r="1.55"/><circle cx="91.2" cy="495.4" r="1.55"/><circle cx="91.8" cy="494.3" r="1.55"/><circle cx="92.4" cy="496.3" r="1.55"/><circle cx="93.0" cy="495.4" r="1.55"/><circle cx="93.6" cy="495.8" r="1.55"/><circle cx="94.2" cy="495.3" r="1.55"/><circle cx="94.8" cy="493.7" r="1.55"/><circle cx="95.4" cy="492.2" r="1.55"/><circle cx="96.0" cy="492.6" r="1.55"/><circle cx="96.6" cy="489.6" r="1.55"/><circle cx="97.2" cy="490.0" r="1.55"/><circle cx="97.8" cy="491.4" r="1.55"/><circle cx="98.4" cy="492.4" r="1.55"/><circle cx="99.0" cy="491.6" r="1.55"/><circle cx="99.6" cy="489.3" r="1.55"/><circle cx="100.2" cy="488.6" r="1.55"/><circle cx="100.8" cy="491.1" r="1.55"/><circle cx="101.4" cy="490.0" r="1.55"/><circle cx="102.0" cy="489.6" r="1.55"/><circle cx="102.6" cy="491.4" r="1.55"/><circle cx="103.2" cy="491.4" r="1.55"/><circle cx="103.8" cy="490.5" r="1.55"/><circle cx="104.4" cy="490.5" r="1.55"/><circle cx="105.0" cy="490.6" r="1.55"/><circle cx="105.6" cy="491.5" r="1.55"/><circle cx="106.2" cy="490.6" r="1.55"/><circle cx="106.8" cy="490.0" r="1.55"/><circle cx="107.4" cy="489.3" r="1.55"/><circle cx="108.0" cy="486.7" r="1.55"/><circle cx="108.6" cy="488.6" r="1.55"/><circle cx="109.2" cy="487.6" r="1.55"/><circle cx="109.8" cy="486.5" r="1.55"/><circle cx="110.4" cy="483.5" r="1.55"/><circle cx="111.0" cy="484.0" r="1.55"/><circle cx="111.6" cy="484.9" r="1.55"/><circle cx="112.2" cy="482.0" r="1.55"/><circle cx="112.8" cy="483.0" r="1.55"/><circle cx="113.4" cy="483.6" r="1.55"/><circle cx="114.0" cy="481.0" r="1.55"/><circle cx="114.6" cy="483.2" r="1.55"/><circle cx="115.2" cy="481.7" r="1.55"/><circle cx="115.8" cy="480.6" r="1.55"/><circle cx="116.4" cy="480.6" r="1.55"/><circle cx="117.0" cy="480.4" r="1.55"/><circle cx="117.6" cy="479.4" r="1.55"/><circle cx="118.2" cy="479.9" r="1.55"/><circle cx="118.8" cy="477.8" r="1.55"/><circle cx="119.4" cy="477.5" r="1.55"/><circle cx="120.0" cy="478.4" r="1.55"/><circle cx="120.6" cy="477.0" r="1.55"/><circle cx="121.2" cy="475.7" r="1.55"/><circle cx="121.8" cy="476.8" r="1.55"/><circle cx="122.4" cy="476.8" r="1.55"/><circle cx="123.0" cy="474.6" r="1.55"/><circle cx="123.6" cy="473.3" r="1.55"/><circle cx="124.2" cy="474.0" r="1.55"/><circle cx="124.8" cy="473.5" r="1.55"/><circle cx="125.4" cy="472.9" r="1.55"/><circle cx="126.0" cy="473.9" r="1.55"/><circle cx="126.6" cy="471.2" r="1.55"/><circle cx="127.2" cy="472.8" r="1.55"/><circle cx="127.8" cy="470.0" r="1.55"/><circle cx="128.4" cy="469.9" r="1.55"/><circle cx="129.0" cy="470.6" r="1.55"/><circle cx="129.6" cy="470.5" r="1.55"/><circle cx="130.2" cy="469.8" r="1.55"/><circle cx="130.8" cy="468.8" r="1.55"/><circle cx="131.4" cy="468.0" r="1.55"/><circle cx="132.0" cy="467.5" r="1.55"/><circle cx="132.6" cy="467.5" r="1.55"/><circle cx="133.2" cy="466.5" r="1.55"/><circle cx="133.8" cy="466.6" r="1.55"/><circle cx="134.4" cy="466.5" r="1.55"/><circle cx="135.0" cy="465.7" r="1.55"/><circle cx="135.6" cy="466.0" r="1.55"/><circle cx="136.2" cy="465.5" r="1.55"/><circle cx="136.8" cy="466.5" r="1.55"/><circle cx="137.4" cy="464.6" r="1.55"/><circle cx="138.0" cy="463.6" r="1.55"/><circle cx="138.6" cy="463.3" r="1.55"/><circle cx="139.2" cy="463.3" r="1.55"/><circle cx="139.8" cy="463.8" r="1.55"/><circle cx="140.4" cy="462.3" r="1.55"/><circle cx="141.0" cy="462.7" r="1.55"/><circle cx="141.6" cy="463.7" r="1.55"/><circle cx="142.2" cy="459.5" r="1.55"/><circle cx="142.8" cy="460.5" r="1.55"/><circle cx="143.4" cy="461.4" r="1.55"/><circle cx="144.0" cy="461.2" r="1.55"/><circle cx="144.6" cy="460.8" r="1.55"/><circle cx="145.2" cy="459.9" r="1.55"/><circle cx="145.8" cy="460.6" r="1.55"/><circle cx="146.4" cy="459.9" r="1.55"/><circle cx="147.0" cy="458.9" r="1.55"/><circle cx="147.6" cy="461.3" r="1.55"/><circle cx="148.2" cy="459.1" r="1.55"/><circle cx="148.8" cy="458.0" r="1.55"/><circle cx="149.4" cy="458.1" r="1.55"/><circle cx="150.0" cy="457.7" r="1.55"/><circle cx="150.6" cy="457.6" r="1.55"/><circle cx="151.2" cy="454.9" r="1.55"/><circle cx="151.8" cy="456.7" r="1.55"/><circle cx="152.4" cy="457.8" r="1.55"/><circle cx="153.0" cy="455.6" r="1.55"/><circle cx="153.6" cy="456.4" r="1.55"/><circle cx="154.2" cy="457.0" r="1.55"/><circle cx="154.8" cy="456.7" r="1.55"/><circle cx="155.4" cy="457.0" r="1.55"/><circle cx="156.0" cy="453.9" r="1.55"/><circle cx="156.6" cy="454.9" r="1.55"/><circle cx="157.2" cy="454.7" r="1.55"/><circle cx="157.8" cy="455.3" r="1.55"/><circle cx="158.4" cy="455.5" r="1.55"/><circle cx="159.0" cy="451.8" r="1.55"/><circle cx="159.6" cy="455.0" r="1.55"/><circle cx="160.2" cy="452.4" r="1.55"/><circle cx="160.8" cy="454.0" r="1.55"/><circle cx="161.4" cy="451.6" r="1.55"/><circle cx="162.0" cy="452.7" r="1.55"/><circle cx="162.6" cy="453.2" r="1.55"/><circle cx="163.2" cy="451.6" r="1.55"/><circle cx="163.8" cy="451.4" r="1.55"/><circle cx="164.4" cy="451.6" r="1.55"/><circle cx="165.0" cy="450.6" r="1.55"/><circle cx="165.6" cy="449.9" r="1.55"/><circle cx="166.2" cy="451.0" r="1.55"/><circle cx="166.8" cy="450.1" r="1.55"/><circle cx="167.4" cy="448.5" r="1.55"/><circle cx="168.0" cy="450.8" r="1.55"/><circle cx="168.6" cy="446.9" r="1.55"/><circle cx="169.2" cy="448.4" r="1.55"/><circle cx="169.8" cy="446.9" r="1.55"/><circle cx="170.4" cy="446.8" r="1.55"/><circle cx="171.0" cy="447.2" r="1.55"/><circle cx="171.6" cy="446.7" r="1.55"/><circle cx="172.2" cy="446.9" r="1.55"/><circle cx="172.8" cy="444.8" r="1.55"/><circle cx="173.4" cy="444.7" r="1.55"/><circle cx="174.0" cy="446.5" r="1.55"/><circle cx="174.6" cy="445.0" r="1.55"/><circle cx="175.2" cy="444.8" r="1.55"/><circle cx="175.8" cy="444.3" r="1.55"/><circle cx="176.4" cy="446.6" r="1.55"/><circle cx="177.0" cy="446.0" r="1.55"/><circle cx="177.6" cy="446.5" r="1.55"/><circle cx="178.2" cy="444.2" r="1.55"/><circle cx="178.8" cy="445.0" r="1.55"/><circle cx="179.4" cy="443.8" r="1.55"/><circle cx="180.0" cy="445.4" r="1.55"/><circle cx="180.6" cy="446.0" r="1.55"/><circle cx="181.2" cy="443.7" r="1.55"/><circle cx="181.8" cy="445.8" r="1.55"/><circle cx="182.4" cy="445.2" r="1.55"/><circle cx="183.0" cy="444.0" r="1.55"/><circle cx="183.6" cy="442.3" r="1.55"/><circle cx="184.2" cy="445.3" r="1.55"/><circle cx="184.8" cy="443.8" r="1.55"/><circle cx="185.4" cy="443.3" r="1.55"/><circle cx="186.0" cy="444.1" r="1.55"/><circle cx="186.6" cy="444.0" r="1.55"/><circle cx="187.2" cy="444.9" r="1.55"/><circle cx="187.8" cy="442.5" r="1.55"/><circle cx="188.4" cy="444.4" r="1.55"/><circle cx="189.0" cy="444.6" r="1.55"/><circle cx="189.6" cy="444.5" r="1.55"/><circle cx="190.2" cy="442.9" r="1.55"/><circle cx="190.8" cy="442.2" r="1.55"/><circle cx="191.4" cy="443.5" r="1.55"/><circle cx="192.0" cy="442.3" r="1.55"/><circle cx="192.6" cy="442.0" r="1.55"/><circle cx="193.2" cy="442.8" r="1.55"/><circle cx="193.8" cy="441.0" r="1.55"/><circle cx="194.4" cy="438.8" r="1.55"/><circle cx="195.0" cy="440.2" r="1.55"/><circle cx="195.6" cy="438.5" r="1.55"/><circle cx="196.2" cy="440.6" r="1.55"/><circle cx="196.8" cy="439.9" r="1.55"/><circle cx="197.4" cy="439.0" r="1.55"/><circle cx="198.0" cy="439.5" r="1.55"/><circle cx="198.6" cy="440.2" r="1.55"/><circle cx="199.2" cy="439.4" r="1.55"/><circle cx="199.8" cy="440.5" r="1.55"/><circle cx="200.4" cy="439.2" r="1.55"/><circle cx="201.0" cy="440.1" r="1.55"/><circle cx="201.6" cy="440.5" r="1.55"/><circle cx="202.2" cy="440.5" r="1.55"/><circle cx="202.8" cy="438.4" r="1.55"/><circle cx="203.4" cy="439.7" r="1.55"/><circle cx="204.0" cy="437.2" r="1.55"/><circle cx="204.6" cy="437.8" r="1.55"/><circle cx="205.2" cy="437.0" r="1.55"/><circle cx="205.8" cy="439.7" r="1.55"/><circle cx="206.4" cy="437.5" r="1.55"/><circle cx="207.0" cy="438.5" r="1.55"/><circle cx="207.6" cy="438.2" r="1.55"/><circle cx="208.2" cy="438.2" r="1.55"/><circle cx="208.8" cy="437.5" r="1.55"/><circle cx="209.4" cy="438.0" r="1.55"/><circle cx="210.0" cy="439.3" r="1.55"/><circle cx="210.6" cy="437.5" r="1.55"/><circle cx="211.2" cy="437.8" r="1.55"/><circle cx="211.8" cy="438.0" r="1.55"/><circle cx="212.4" cy="436.8" r="1.55"/><circle cx="213.0" cy="435.6" r="1.55"/><circle cx="213.6" cy="436.1" r="1.55"/><circle cx="214.2" cy="437.4" r="1.55"/><circle cx="214.8" cy="434.7" r="1.55"/><circle cx="215.4" cy="435.5" r="1.55"/><circle cx="216.0" cy="436.8" r="1.55"/><circle cx="216.6" cy="436.4" r="1.55"/><circle cx="217.2" cy="435.6" r="1.55"/><circle cx="217.8" cy="436.2" r="1.55"/><circle cx="218.4" cy="435.5" r="1.55"/><circle cx="219.0" cy="434.2" r="1.55"/><circle cx="219.6" cy="433.7" r="1.55"/><circle cx="220.2" cy="434.4" r="1.55"/><circle cx="220.8" cy="435.7" r="1.55"/><circle cx="221.4" cy="434.3" r="1.55"/><circle cx="222.0" cy="433.8" r="1.55"/><circle cx="222.6" cy="433.9" r="1.55"/><circle cx="223.2" cy="433.1" r="1.55"/><circle cx="223.8" cy="434.2" r="1.55"/><circle cx="224.4" cy="433.1" r="1.55"/><circle cx="225.0" cy="434.4" r="1.55"/><circle cx="225.6" cy="432.3" r="1.55"/><circle cx="226.2" cy="435.1" r="1.55"/><circle cx="226.8" cy="434.6" r="1.55"/><circle cx="227.4" cy="433.8" r="1.55"/><circle cx="228.0" cy="436.5" r="1.55"/><circle cx="228.6" cy="436.0" r="1.55"/><circle cx="229.2" cy="434.5" r="1.55"/><circle cx="229.8" cy="436.1" r="1.55"/><circle cx="230.4" cy="437.5" r="1.55"/><circle cx="231.0" cy="437.2" r="1.55"/><circle cx="231.6" cy="437.5" r="1.55"/><circle cx="232.2" cy="436.7" r="1.55"/><circle cx="232.8" cy="435.9" r="1.55"/><circle cx="233.4" cy="434.8" r="1.55"/><circle cx="234.0" cy="435.0" r="1.55"/><circle cx="234.6" cy="433.6" r="1.55"/><circle cx="235.2" cy="430.8" r="1.55"/><circle cx="235.8" cy="422.4" r="1.55"/><circle cx="236.4" cy="419.2" r="1.55"/><circle cx="237.0" cy="414.6" r="1.55"/><circle cx="237.6" cy="408.1" r="1.55"/><circle cx="238.2" cy="402.9" r="1.55"/><circle cx="238.8" cy="400.1" r="1.55"/><circle cx="239.4" cy="392.5" r="1.55"/><circle cx="240.0" cy="391.7" r="1.55"/><circle cx="240.6" cy="390.6" r="1.55"/><circle cx="241.2" cy="384.8" r="1.55"/><circle cx="241.8" cy="383.4" r="1.55"/><circle cx="242.4" cy="382.0" r="1.55"/><circle cx="243.0" cy="378.4" r="1.55"/><circle cx="243.6" cy="377.3" r="1.55"/><circle cx="244.2" cy="375.8" r="1.55"/><circle cx="244.8" cy="372.4" r="1.55"/><circle cx="245.4" cy="371.4" r="1.55"/><circle cx="246.0" cy="369.9" r="1.55"/><circle cx="246.6" cy="368.9" r="1.55"/><circle cx="247.2" cy="366.9" r="1.55"/><circle cx="247.8" cy="365.6" r="1.55"/><circle cx="248.4" cy="363.6" r="1.55"/><circle cx="249.0" cy="363.0" r="1.55"/><circle cx="249.6" cy="362.9" r="1.55"/><circle cx="250.2" cy="361.0" r="1.55"/><circle cx="250.8" cy="359.1" r="1.55"/><circle cx="251.4" cy="358.1" r="1.55"/><circle cx="252.0" cy="360.3" r="1.55"/><circle cx="252.6" cy="357.9" r="1.55"/><circle cx="253.2" cy="356.5" r="1.55"/><circle cx="253.8" cy="352.6" r="1.55"/><circle cx="254.4" cy="354.5" r="1.55"/><circle cx="255.0" cy="353.4" r="1.55"/><circle cx="255.6" cy="353.4" r="1.55"/><circle cx="256.2" cy="351.3" r="1.55"/><circle cx="256.8" cy="350.2" r="1.55"/><circle cx="257.4" cy="350.2" r="1.55"/><circle cx="258.0" cy="347.5" r="1.55"/><circle cx="258.6" cy="349.7" r="1.55"/><circle cx="259.2" cy="348.6" r="1.55"/><circle cx="259.8" cy="347.1" r="1.55"/><circle cx="260.4" cy="348.5" r="1.55"/><circle cx="261.0" cy="348.4" r="1.55"/><circle cx="261.6" cy="345.0" r="1.55"/><circle cx="262.2" cy="345.2" r="1.55"/><circle cx="262.8" cy="345.5" r="1.55"/><circle cx="263.4" cy="344.9" r="1.55"/><circle cx="264.0" cy="343.9" r="1.55"/><circle cx="264.6" cy="342.9" r="1.55"/><circle cx="265.2" cy="345.2" r="1.55"/><circle cx="265.8" cy="343.7" r="1.55"/><circle cx="266.4" cy="341.2" r="1.55"/><circle cx="267.0" cy="340.5" r="1.55"/><circle cx="267.6" cy="342.8" r="1.55"/><circle cx="268.2" cy="341.6" r="1.55"/><circle cx="268.8" cy="341.8" r="1.55"/><circle cx="269.4" cy="340.3" r="1.55"/><circle cx="270.0" cy="338.2" r="1.55"/><circle cx="270.6" cy="338.6" r="1.55"/><circle cx="271.2" cy="335.9" r="1.55"/><circle cx="271.8" cy="336.5" r="1.55"/><circle cx="272.4" cy="336.5" r="1.55"/><circle cx="273.0" cy="336.5" r="1.55"/><circle cx="273.6" cy="334.6" r="1.55"/><circle cx="274.2" cy="334.6" r="1.55"/><circle cx="274.8" cy="339.1" r="1.55"/><circle cx="275.4" cy="343.0" r="1.55"/><circle cx="276.0" cy="347.2" r="1.55"/><circle cx="276.6" cy="350.8" r="1.55"/><circle cx="277.2" cy="356.4" r="1.55"/><circle cx="277.8" cy="363.4" r="1.55"/><circle cx="278.4" cy="368.8" r="1.55"/><circle cx="279.0" cy="374.9" r="1.55"/><circle cx="279.6" cy="382.3" r="1.55"/><circle cx="280.2" cy="390.2" r="1.55"/><circle cx="280.8" cy="397.3" r="1.55"/><circle cx="281.4" cy="404.9" r="1.55"/><circle cx="282.0" cy="412.0" r="1.55"/><circle cx="282.6" cy="419.5" r="1.55"/><circle cx="283.2" cy="429.6" r="1.55"/><circle cx="283.8" cy="433.2" r="1.55"/><circle cx="284.4" cy="438.2" r="1.55"/><circle cx="285.0" cy="442.3" r="1.55"/><circle cx="285.6" cy="445.3" r="1.55"/><circle cx="286.2" cy="446.7" r="1.55"/><circle cx="286.8" cy="448.8" r="1.55"/><circle cx="287.4" cy="449.2" r="1.55"/><circle cx="288.0" cy="449.9" r="1.55"/><circle cx="288.6" cy="453.3" r="1.55"/><circle cx="289.2" cy="454.0" r="1.55"/><circle cx="289.8" cy="457.1" r="1.55"/><circle cx="290.4" cy="457.0" r="1.55"/><circle cx="291.0" cy="456.8" r="1.55"/><circle cx="291.6" cy="459.5" r="1.55"/><circle cx="292.2" cy="463.1" r="1.55"/><circle cx="292.8" cy="462.5" r="1.55"/><circle cx="293.4" cy="462.8" r="1.55"/><circle cx="294.0" cy="464.6" r="1.55"/><circle cx="294.6" cy="467.0" r="1.55"/><circle cx="295.2" cy="468.1" r="1.55"/><circle cx="295.8" cy="469.0" r="1.55"/><circle cx="296.4" cy="471.4" r="1.55"/><circle cx="297.0" cy="471.9" r="1.55"/><circle cx="297.6" cy="472.0" r="1.55"/><circle cx="298.2" cy="471.3" r="1.55"/><circle cx="298.8" cy="471.0" r="1.55"/><circle cx="299.4" cy="469.2" r="1.55"/><circle cx="300.0" cy="468.5" r="1.55"/><circle cx="300.6" cy="466.8" r="1.55"/><circle cx="301.2" cy="467.8" r="1.55"/><circle cx="301.8" cy="468.7" r="1.55"/><circle cx="302.4" cy="468.0" r="1.55"/><circle cx="303.0" cy="469.4" r="1.55"/><circle cx="303.6" cy="469.2" r="1.55"/><circle cx="304.2" cy="469.6" r="1.55"/><circle cx="304.8" cy="468.8" r="1.55"/><circle cx="305.4" cy="471.4" r="1.55"/><circle cx="306.0" cy="470.4" r="1.55"/><circle cx="306.6" cy="469.3" r="1.55"/><circle cx="307.2" cy="469.8" r="1.55"/><circle cx="307.8" cy="472.3" r="1.55"/><circle cx="308.4" cy="470.1" r="1.55"/><circle cx="309.0" cy="471.6" r="1.55"/><circle cx="309.6" cy="472.2" r="1.55"/><circle cx="310.2" cy="471.7" r="1.55"/><circle cx="310.8" cy="471.1" r="1.55"/><circle cx="311.4" cy="472.8" r="1.55"/><circle cx="312.0" cy="473.4" r="1.55"/><circle cx="312.6" cy="474.5" r="1.55"/><circle cx="313.2" cy="474.7" r="1.55"/><circle cx="313.8" cy="474.4" r="1.55"/><circle cx="314.4" cy="475.3" r="1.55"/><circle cx="315.0" cy="475.1" r="1.55"/><circle cx="315.6" cy="474.9" r="1.55"/><circle cx="316.2" cy="474.8" r="1.55"/><circle cx="316.8" cy="474.6" r="1.55"/><circle cx="317.4" cy="475.5" r="1.55"/><circle cx="318.0" cy="474.0" r="1.55"/><circle cx="318.6" cy="474.4" r="1.55"/><circle cx="319.2" cy="475.0" r="1.55"/><circle cx="319.8" cy="473.8" r="1.55"/><circle cx="320.4" cy="474.8" r="1.55"/><circle cx="321.0" cy="473.4" r="1.55"/><circle cx="321.6" cy="474.7" r="1.55"/><circle cx="322.2" cy="476.0" r="1.55"/><circle cx="322.8" cy="476.3" r="1.55"/><circle cx="323.4" cy="476.1" r="1.55"/><circle cx="324.0" cy="476.2" r="1.55"/><circle cx="324.6" cy="475.4" r="1.55"/><circle cx="325.2" cy="478.6" r="1.55"/><circle cx="325.8" cy="477.8" r="1.55"/><circle cx="326.4" cy="478.6" r="1.55"/><circle cx="327.0" cy="477.1" r="1.55"/><circle cx="327.6" cy="478.0" r="1.55"/></g>
<polygon points="222.5,414.7 236.5,414.7 229.4,430.1" fill="#8a22c8"/>
<line x1="462.50" y1="314.60" x2="462.50" y2="496.30" stroke="#8a8a8a" stroke-width="1"/>
<line x1="458.30" y1="496.50" x2="467.00" y2="496.50" stroke="#8a8a8a" stroke-width="1"/>
<text x="442.53" y="501.30" font-size="14.5" font-weight="bold" fill="#000" >0</text>
<line x1="458.30" y1="450.50" x2="467.00" y2="450.50" stroke="#8a8a8a" stroke-width="1"/>
<text x="430.25" y="455.90" font-size="14.5" font-weight="bold" fill="#000" >0.5</text>
<line x1="458.30" y1="405.50" x2="467.00" y2="405.50" stroke="#8a8a8a" stroke-width="1"/>
<text x="442.34" y="410.50" font-size="14.5" font-weight="bold" fill="#000" >1</text>
<line x1="458.30" y1="360.50" x2="467.00" y2="360.50" stroke="#8a8a8a" stroke-width="1"/>
<text x="430.25" y="365.10" font-size="14.5" font-weight="bold" fill="#000" >1.5</text>
<line x1="458.30" y1="314.50" x2="467.00" y2="314.50" stroke="#8a8a8a" stroke-width="1"/>
<text x="442.52" y="319.70" font-size="14.5" font-weight="bold" fill="#000" >2</text>
<line x1="458.30" y1="496.50" x2="750.60" y2="496.50" stroke="#8a8a8a" stroke-width="1"/>
<line x1="462.50" y1="493.00" x2="462.50" y2="499.80" stroke="#8a8a8a" stroke-width="1"/>
<text x="459.06" y="515.60" font-size="12.4" font-weight="bold" fill="#000" >0</text>
<line x1="520.50" y1="493.00" x2="520.50" y2="499.80" stroke="#8a8a8a" stroke-width="1"/>
<text x="509.81" y="515.60" font-size="12.4" font-weight="bold" fill="#000" >200</text>
<line x1="577.50" y1="493.00" x2="577.50" y2="499.80" stroke="#8a8a8a" stroke-width="1"/>
<text x="567.56" y="515.60" font-size="12.4" font-weight="bold" fill="#000" >400</text>
<line x1="635.50" y1="493.00" x2="635.50" y2="499.80" stroke="#8a8a8a" stroke-width="1"/>
<text x="625.04" y="515.60" font-size="12.4" font-weight="bold" fill="#000" >600</text>
<line x1="692.50" y1="493.00" x2="692.50" y2="499.80" stroke="#8a8a8a" stroke-width="1"/>
<text x="682.69" y="515.60" font-size="12.4" font-weight="bold" fill="#000" >800</text>
<line x1="750.50" y1="493.00" x2="750.50" y2="499.80" stroke="#8a8a8a" stroke-width="1"/>
<text x="736.67" y="515.60" font-size="12.4" font-weight="bold" fill="#000" >1000</text>
<rect x="482.2" y="315.2" width="251.2" height="4.8" fill="#dd0000"/>
<rect x="633.2" y="323.1" width="100.2" height="4.6" fill="#80ae52"/>
<text x="746.53" y="319.30" font-size="9.4" font-weight="normal" fill="#000" >FSK</text>
<text x="746.67" y="331.00" font-size="9.4" font-weight="normal" fill="#000" >inh172</text>
<text x="483.13" y="361.00" font-size="16.3" font-weight="bold" fill="#000" >S768S</text>
<text x="532.59" y="356.40" font-size="10.6" font-weight="bold" fill="#000" >cage</text>
<text x="585.46" y="552.10" font-size="18" font-weight="normal" fill="#000" >Time (s)</text>
<text transform="translate(418.5,405.4) rotate(-90)" text-anchor="middle" font-size="18.4" fill="#000">Current (nA)</text>
<path d="M462.40,491.23 L462.95,493.05 L463.50,493.15 L464.05,491.17 L464.60,492.46 L465.15,492.94 L465.70,491.27 L466.25,491.22 L466.80,491.75 L467.35,492.06 L467.90,491.52 L468.45,492.52 L469.00,492.67 L469.55,492.94 L470.10,492.99 L470.65,493.55 L471.20,493.32 L471.75,491.58 L472.30,492.15 L472.85,491.77 L473.40,491.78 L473.95,492.49 L474.50,492.57 L475.05,492.93 L475.60,491.50 L476.15,491.77 L476.70,492.64 L477.25,492.53 L477.80,492.47 L478.35,492.67 L478.90,492.20 L479.45,493.24 L480.00,493.02 L480.55,492.73 L481.10,492.34 L481.65,492.71 L482.20,490.95 L482.75,492.19 L483.30,492.92 L483.85,491.83 L484.40,493.00 L484.95,492.95 L485.50,491.86 L486.05,492.63 L486.60,492.56 L487.15,493.08 L487.70,493.17 L488.25,492.70 L488.80,492.11 L489.35,492.58 L489.90,492.62 L490.45,493.16 L491.00,492.83 L491.55,492.10 L492.10,491.63 L492.65,492.30 L493.20,492.02 L493.75,491.74 L494.30,492.42 L494.85,491.86 L495.40,491.98 L495.95,491.98 L496.50,491.03 L497.05,492.65 L497.60,490.50 L498.15,491.20 L498.70,490.22 L499.25,490.62 L499.80,487.80 L500.35,488.16 L500.90,488.08 L501.45,487.56 L502.00,488.00 L502.55,485.81 L503.10,485.71 L503.65,484.58 L504.20,483.93 L504.75,482.85 L505.30,481.69 L505.85,481.62 L506.40,479.96 L506.95,481.00 L507.50,478.92 L508.05,479.26 L508.60,480.02 L509.15,477.84 L509.70,477.47 L510.25,477.72 L510.80,476.38 L511.35,475.26 L511.90,475.46 L512.45,475.14 L513.00,474.69 L513.55,473.11 L514.10,474.10 L514.65,473.08 L515.20,470.97 L515.75,470.18 L516.30,468.73 L516.85,469.06 L517.40,466.62 L517.95,466.62 L518.50,464.85 L519.05,463.74 L519.60,463.77 L520.15,463.24 L520.70,461.34 L521.25,459.91 L521.80,459.99 L522.35,458.43 L522.90,457.72 L523.45,457.61 L524.00,456.37 L524.55,454.25 L525.10,455.26 L525.65,452.70 L526.20,452.29 L526.75,450.32 L527.30,449.78 L527.85,447.63 L528.40,449.14 L528.95,447.89 L529.50,445.12 L530.05,443.96 L530.60,442.91 L531.15,443.91 L531.70,441.80 L532.25,441.12 L532.80,439.99 L533.35,439.16 L533.90,437.52 L534.45,437.34 L535.00,435.35 L535.55,435.35 L536.10,434.66 L536.65,433.81 L537.20,432.36 L537.75,430.92 L538.30,430.71 L538.85,429.30 L539.40,429.77 L539.95,428.25 L540.50,426.67 L541.05,425.46 L541.60,424.34 L542.15,423.21 L542.70,422.66 L543.25,422.15 L543.80,421.35 L544.35,420.42 L544.90,420.53 L545.45,417.61 L546.00,417.15 L546.55,418.14 L547.10,413.91 L547.65,413.89 L548.20,413.42 L548.75,412.52 L549.30,412.00 L549.85,410.85 L550.40,410.57 L550.95,409.66 L551.50,409.46 L552.05,406.90 L552.60,406.91 L553.15,406.83 L553.70,405.41 L554.25,404.71 L554.80,405.18 L555.35,403.59 L555.90,403.79 L556.45,403.17 L557.00,402.17 L557.55,401.84 L558.10,401.07 L558.65,399.81 L559.20,400.44 L559.75,400.44 L560.30,399.41 L560.85,399.36 L561.40,399.62 L561.95,398.14 L562.50,398.86 L563.05,399.37 L563.60,397.34 L564.15,397.49 L564.70,396.94 L565.25,397.78 L565.80,396.58 L566.35,396.59 L566.90,395.07 L567.45,395.13 L568.00,394.72 L568.55,393.08 L569.10,394.92 L569.65,394.13 L570.20,391.86 L570.75,393.20 L571.30,392.17 L571.85,392.17 L572.40,391.70 L572.95,389.98 L573.50,390.47 L574.05,391.26 L574.60,389.40 L575.15,388.61 L575.70,387.91 L576.25,387.53 L576.80,388.15 L577.35,388.63 L577.90,387.27 L578.45,386.67 L579.00,387.59 L579.55,385.19 L580.10,384.61 L580.65,384.98 L581.20,384.53 L581.75,382.96 L582.30,382.38 L582.85,382.93 L583.40,382.43 L583.95,380.87 L584.50,381.17 L585.05,380.46 L585.60,381.00 L586.15,380.46 L586.70,380.34 L587.25,380.02 L587.80,380.86 L588.35,380.96 L588.90,379.59 L589.45,380.30 L590.00,379.04 L590.55,379.49 L591.10,379.82 L591.65,380.22 L592.20,378.76 L592.75,378.84 L593.30,378.97 L593.85,377.86 L594.40,378.99 L594.95,378.59 L595.50,379.40 L596.05,378.42 L596.60,377.91 L597.15,379.40 L597.70,379.63 L598.25,379.14 L598.80,380.23 L599.35,379.49 L599.90,379.33 L600.45,380.58 L601.00,380.13 L601.55,381.73 L602.10,383.18 L602.65,384.77 L603.20,385.04 L603.75,386.35 L604.30,386.66 L604.85,388.31 L605.40,390.10 L605.95,388.66 L606.50,391.01 L607.05,389.11 L607.60,389.77 L608.15,390.09 L608.70,390.89 L609.25,389.52 L609.80,389.12 L610.35,391.22 L610.90,391.56 L611.45,391.64 L612.00,393.25 L612.55,391.76 L613.10,392.00 L613.65,392.55 L614.20,392.16 L614.75,393.06 L615.30,391.03 L615.85,391.64 L616.40,389.49 L616.95,392.47 L617.50,391.64 L618.05,392.55 L618.60,393.41 L619.15,391.90 L619.70,391.72 L620.25,391.55 L620.80,391.31 L621.35,391.46 L621.90,392.35 L622.45,391.93 L623.00,391.95 L623.55,391.78 L624.10,392.54 L624.65,392.25 L625.20,391.80 L625.75,392.37 L626.30,391.79 L626.85,391.09 L627.40,392.92 L627.95,392.23 L628.50,391.23 L629.05,392.66 L629.60,392.14 L630.15,390.80 L630.70,393.03 L631.25,392.13 L631.80,392.60 L632.35,392.25 L632.90,392.14 L633.45,391.29 L634.00,393.19 L634.55,392.66 L635.10,392.58 L635.65,393.07 L636.20,392.03 L636.75,391.61 L637.30,390.03 L637.85,389.42 L638.40,387.11 L638.95,387.46 L639.50,387.39 L640.05,387.39 L640.60,386.75 L641.15,387.47 L641.70,389.21 L642.25,388.42 L642.80,389.71 L643.35,390.92 L643.90,390.33 L644.45,394.52 L645.00,396.53 L645.55,400.54 L646.10,403.70 L646.65,407.08 L647.20,410.70 L647.75,414.50 L648.30,415.27 L648.85,418.25 L649.40,421.92 L649.95,423.75 L650.50,427.75 L651.05,430.56 L651.60,432.73 L652.15,436.05 L652.70,437.36 L653.25,441.73 L653.80,442.88 L654.35,446.24 L654.90,449.09 L655.45,451.96 L656.00,454.93 L656.55,455.29 L657.10,455.87 L657.65,457.43 L658.20,459.07 L658.75,458.87 L659.30,460.03 L659.85,461.55 L660.40,461.78 L660.95,461.60 L661.50,465.15 L662.05,465.86 L662.60,463.83 L663.15,466.10 L663.70,467.33 L664.25,468.20 L664.80,468.39 L665.35,468.13 L665.90,467.98 L666.45,469.18 L667.00,470.23 L667.55,469.14 L668.10,469.58 L668.65,470.68 L669.20,469.73 L669.75,471.30 L670.30,471.58 L670.85,472.59 L671.40,472.18 L671.95,472.45 L672.50,473.19 L673.05,473.83 L673.60,473.63 L674.15,474.33 L674.70,475.06 L675.25,475.59 L675.80,476.17 L676.35,474.65 L676.90,475.12 L677.45,473.90 L678.00,477.18 L678.55,475.56 L679.10,476.27 L679.65,476.88 L680.20,475.78 L680.75,477.27 L681.30,477.15 L681.85,476.11 L682.40,477.81 L682.95,478.66 L683.50,476.74 L684.05,478.83 L684.60,478.63 L685.15,479.03 L685.70,479.23 L686.25,480.05 L686.80,479.16 L687.35,480.10 L687.90,479.37 L688.45,480.33 L689.00,479.42 L689.55,480.08 L690.10,481.53 L690.65,480.80 L691.20,480.54 L691.75,480.02 L692.30,480.43 L692.85,481.29 L693.40,481.98 L693.95,481.79 L694.50,482.02 L695.05,481.79 L695.60,482.93 L696.15,481.88 L696.70,481.94 L697.25,483.11 L697.80,482.70 L698.35,482.63 L698.90,482.58 L699.45,482.97 L700.00,483.71 L700.55,483.63 L701.10,482.65 L701.65,483.90 L702.20,483.83 L702.75,483.12 L703.30,484.46 L703.85,483.83 L704.40,483.90 L704.95,484.80 L705.50,485.28 L706.05,483.98 L706.60,484.88 L707.15,484.06 L707.70,486.40 L708.25,484.55 L708.80,485.83 L709.35,484.65 L709.90,485.78 L710.45,486.87 L711.00,483.65 L711.55,485.23 L712.10,485.99 L712.65,485.69 L713.20,485.39 L713.75,487.48 L714.30,486.14 L714.85,485.04 L715.40,486.91 L715.95,485.21 L716.50,487.34 L717.05,486.24 L717.60,486.86 L718.15,487.75 L718.70,487.06 L719.25,486.12 L719.80,486.01 L720.35,488.14 L720.90,487.94 L721.45,486.96 L722.00,488.25 L722.55,488.11 L723.10,488.32 L723.65,486.40 L724.20,487.88 L724.75,488.84 L725.30,488.83 L725.85,489.05 L726.40,486.79 L726.95,488.65 L727.50,488.89 L728.05,490.36 L728.60,487.92 L729.15,488.38 L729.70,488.66 L730.25,489.27 L730.80,488.36 L731.35,489.50 L731.90,488.16 L732.45,488.92 L733.00,488.39 L733.55,488.89 L734.10,488.31 L734.65,487.70 L735.20,489.60 L735.75,489.07 L736.30,488.49 L736.85,489.04 L737.40,489.61 L737.95,488.26 L738.50,488.89 L739.05,489.36 L739.60,489.38 L740.15,488.81 L740.70,487.62 L741.25,490.00 L741.80,489.40 L742.35,489.22 L742.90,489.06 L743.45,489.48 L744.00,489.04 L744.55,488.66 L745.10,488.90 L745.65,489.05 L746.20,489.08 L746.75,488.74 L747.30,490.03 L747.85,488.71 L748.40,490.13 L748.95,489.00 L749.50,490.00 L750.05,490.76" fill="none" stroke="#e39a2b" stroke-width="1.6" stroke-linejoin="round"/>
<g fill="#e39a2b"><circle cx="462.4" cy="491.2" r="1.5"/><circle cx="462.9" cy="493.0" r="1.5"/><circle cx="463.5" cy="493.2" r="1.5"/><circle cx="464.1" cy="491.2" r="1.5"/><circle cx="464.6" cy="492.5" r="1.5"/><circle cx="465.2" cy="492.9" r="1.5"/><circle cx="465.7" cy="491.3" r="1.5"/><circle cx="466.3" cy="491.2" r="1.5"/><circle cx="466.8" cy="491.8" r="1.5"/><circle cx="467.4" cy="492.1" r="1.5"/><circle cx="467.9" cy="491.5" r="1.5"/><circle cx="468.5" cy="492.5" r="1.5"/><circle cx="469.0" cy="492.7" r="1.5"/><circle cx="469.6" cy="492.9" r="1.5"/><circle cx="470.1" cy="493.0" r="1.5"/><circle cx="470.7" cy="493.6" r="1.5"/><circle cx="471.2" cy="493.3" r="1.5"/><circle cx="471.8" cy="491.6" r="1.5"/><circle cx="472.3" cy="492.1" r="1.5"/><circle cx="472.9" cy="491.8" r="1.5"/><circle cx="473.4" cy="491.8" r="1.5"/><circle cx="474.0" cy="492.5" r="1.5"/><circle cx="474.5" cy="492.6" r="1.5"/><circle cx="475.1" cy="492.9" r="1.5"/><circle cx="475.6" cy="491.5" r="1.5"/><circle cx="476.2" cy="491.8" r="1.5"/><circle cx="476.7" cy="492.6" r="1.5"/><circle cx="477.3" cy="492.5" r="1.5"/><circle cx="477.8" cy="492.5" r="1.5"/><circle cx="478.4" cy="492.7" r="1.5"/><circle cx="478.9" cy="492.2" r="1.5"/><circle cx="479.5" cy="493.2" r="1.5"/><circle cx="480.0" cy="493.0" r="1.5"/><circle cx="480.6" cy="492.7" r="1.5"/><circle cx="481.1" cy="492.3" r="1.5"/><circle cx="481.7" cy="492.7" r="1.5"/><circle cx="482.2" cy="491.0" r="1.5"/><circle cx="482.8" cy="492.2" r="1.5"/><circle cx="483.3" cy="492.9" r="1.5"/><circle cx="483.9" cy="491.8" r="1.5"/><circle cx="484.4" cy="493.0" r="1.5"/><circle cx="485.0" cy="492.9" r="1.5"/><circle cx="485.5" cy="491.9" r="1.5"/><circle cx="486.1" cy="492.6" r="1.5"/><circle cx="486.6" cy="492.6" r="1.5"/><circle cx="487.2" cy="493.1" r="1.5"/><circle cx="487.7" cy="493.2" r="1.5"/><circle cx="488.3" cy="492.7" r="1.5"/><circle cx="488.8" cy="492.1" r="1.5"/><circle cx="489.4" cy="492.6" r="1.5"/><circle cx="489.9" cy="492.6" r="1.5"/><circle cx="490.5" cy="493.2" r="1.5"/><circle cx="491.0" cy="492.8" r="1.5"/><circle cx="491.6" cy="492.1" r="1.5"/><circle cx="492.1" cy="491.6" r="1.5"/><circle cx="492.7" cy="492.3" r="1.5"/><circle cx="493.2" cy="492.0" r="1.5"/><circle cx="493.8" cy="491.7" r="1.5"/><circle cx="494.3" cy="492.4" r="1.5"/><circle cx="494.9" cy="491.9" r="1.5"/><circle cx="495.4" cy="492.0" r="1.5"/><circle cx="496.0" cy="492.0" r="1.5"/><circle cx="496.5" cy="491.0" r="1.5"/><circle cx="497.1" cy="492.7" r="1.5"/><circle cx="497.6" cy="490.5" r="1.5"/><circle cx="498.2" cy="491.2" r="1.5"/><circle cx="498.7" cy="490.2" r="1.5"/><circle cx="499.3" cy="490.6" r="1.5"/><circle cx="499.8" cy="487.8" r="1.5"/><circle cx="500.4" cy="488.2" r="1.5"/><circle cx="500.9" cy="488.1" r="1.5"/><circle cx="501.5" cy="487.6" r="1.5"/><circle cx="502.0" cy="488.0" r="1.5"/><circle cx="502.6" cy="485.8" r="1.5"/><circle cx="503.1" cy="485.7" r="1.5"/><circle cx="503.7" cy="484.6" r="1.5"/><circle cx="504.2" cy="483.9" r="1.5"/><circle cx="504.8" cy="482.8" r="1.5"/><circle cx="505.3" cy="481.7" r="1.5"/><circle cx="505.9" cy="481.6" r="1.5"/><circle cx="506.4" cy="480.0" r="1.5"/><circle cx="507.0" cy="481.0" r="1.5"/><circle cx="507.5" cy="478.9" r="1.5"/><circle cx="508.1" cy="479.3" r="1.5"/><circle cx="508.6" cy="480.0" r="1.5"/><circle cx="509.2" cy="477.8" r="1.5"/><circle cx="509.7" cy="477.5" r="1.5"/><circle cx="510.3" cy="477.7" r="1.5"/><circle cx="510.8" cy="476.4" r="1.5"/><circle cx="511.4" cy="475.3" r="1.5"/><circle cx="511.9" cy="475.5" r="1.5"/><circle cx="512.5" cy="475.1" r="1.5"/><circle cx="513.0" cy="474.7" r="1.5"/><circle cx="513.6" cy="473.1" r="1.5"/><circle cx="514.1" cy="474.1" r="1.5"/><circle cx="514.7" cy="473.1" r="1.5"/><circle cx="515.2" cy="471.0" r="1.5"/><circle cx="515.8" cy="470.2" r="1.5"/><circle cx="516.3" cy="468.7" r="1.5"/><circle cx="516.9" cy="469.1" r="1.5"/><circle cx="517.4" cy="466.6" r="1.5"/><circle cx="518.0" cy="466.6" r="1.5"/><circle cx="518.5" cy="464.9" r="1.5"/><circle cx="519.1" cy="463.7" r="1.5"/><circle cx="519.6" cy="463.8" r="1.5"/><circle cx="520.2" cy="463.2" r="1.5"/><circle cx="520.7" cy="461.3" r="1.5"/><circle cx="521.3" cy="459.9" r="1.5"/><circle cx="521.8" cy="460.0" r="1.5"/><circle cx="522.4" cy="458.4" r="1.5"/><circle cx="522.9" cy="457.7" r="1.5"/><circle cx="523.5" cy="457.6" r="1.5"/><circle cx="524.0" cy="456.4" r="1.5"/><circle cx="524.5" cy="454.3" r="1.5"/><circle cx="525.1" cy="455.3" r="1.5"/><circle cx="525.6" cy="452.7" r="1.5"/><circle cx="526.2" cy="452.3" r="1.5"/><circle cx="526.7" cy="450.3" r="1.5"/><circle cx="527.3" cy="449.8" r="1.5"/><circle cx="527.8" cy="447.6" r="1.5"/><circle cx="528.4" cy="449.1" r="1.5"/><circle cx="528.9" cy="447.9" r="1.5"/><circle cx="529.5" cy="445.1" r="1.5"/><circle cx="530.0" cy="444.0" r="1.5"/><circle cx="530.6" cy="442.9" r="1.5"/><circle cx="531.1" cy="443.9" r="1.5"/><circle cx="531.7" cy="441.8" r="1.5"/><circle cx="532.2" cy="441.1" r="1.5"/><circle cx="532.8" cy="440.0" r="1.5"/><circle cx="533.3" cy="439.2" r="1.5"/><circle cx="533.9" cy="437.5" r="1.5"/><circle cx="534.4" cy="437.3" r="1.5"/><circle cx="535.0" cy="435.4" r="1.5"/><circle cx="535.5" cy="435.3" r="1.5"/><circle cx="536.1" cy="434.7" r="1.5"/><circle cx="536.6" cy="433.8" r="1.5"/><circle cx="537.2" cy="432.4" r="1.5"/><circle cx="537.7" cy="430.9" r="1.5"/><circle cx="538.3" cy="430.7" r="1.5"/><circle cx="538.8" cy="429.3" r="1.5"/><circle cx="539.4" cy="429.8" r="1.5"/><circle cx="539.9" cy="428.3" r="1.5"/><circle cx="540.5" cy="426.7" r="1.5"/><circle cx="541.0" cy="425.5" r="1.5"/><circle cx="541.6" cy="424.3" r="1.5"/><circle cx="542.1" cy="423.2" r="1.5"/><circle cx="542.7" cy="422.7" r="1.5"/><circle cx="543.2" cy="422.2" r="1.5"/><circle cx="543.8" cy="421.3" r="1.5"/><circle cx="544.3" cy="420.4" r="1.5"/><circle cx="544.9" cy="420.5" r="1.5"/><circle cx="545.4" cy="417.6" r="1.5"/><circle cx="546.0" cy="417.2" r="1.5"/><circle cx="546.5" cy="418.1" r="1.5"/><circle cx="547.1" cy="413.9" r="1.5"/><circle cx="547.6" cy="413.9" r="1.5"/><circle cx="548.2" cy="413.4" r="1.5"/><circle cx="548.7" cy="412.5" r="1.5"/><circle cx="549.3" cy="412.0" r="1.5"/><circle cx="549.8" cy="410.8" r="1.5"/><circle cx="550.4" cy="410.6" r="1.5"/><circle cx="550.9" cy="409.7" r="1.5"/><circle cx="551.5" cy="409.5" r="1.5"/><circle cx="552.0" cy="406.9" r="1.5"/><circle cx="552.6" cy="406.9" r="1.5"/><circle cx="553.1" cy="406.8" r="1.5"/><circle cx="553.7" cy="405.4" r="1.5"/><circle cx="554.2" cy="404.7" r="1.5"/><circle cx="554.8" cy="405.2" r="1.5"/><circle cx="555.3" cy="403.6" r="1.5"/><circle cx="555.9" cy="403.8" r="1.5"/><circle cx="556.4" cy="403.2" r="1.5"/><circle cx="557.0" cy="402.2" r="1.5"/><circle cx="557.5" cy="401.8" r="1.5"/><circle cx="558.1" cy="401.1" r="1.5"/><circle cx="558.6" cy="399.8" r="1.5"/><circle cx="559.2" cy="400.4" r="1.5"/><circle cx="559.7" cy="400.4" r="1.5"/><circle cx="560.3" cy="399.4" r="1.5"/><circle cx="560.8" cy="399.4" r="1.5"/><circle cx="561.4" cy="399.6" r="1.5"/><circle cx="561.9" cy="398.1" r="1.5"/><circle cx="562.5" cy="398.9" r="1.5"/><circle cx="563.0" cy="399.4" r="1.5"/><circle cx="563.6" cy="397.3" r="1.5"/><circle cx="564.1" cy="397.5" r="1.5"/><circle cx="564.7" cy="396.9" r="1.5"/><circle cx="565.2" cy="397.8" r="1.5"/><circle cx="565.8" cy="396.6" r="1.5"/><circle cx="566.3" cy="396.6" r="1.5"/><circle cx="566.9" cy="395.1" r="1.5"/><circle cx="567.4" cy="395.1" r="1.5"/><circle cx="568.0" cy="394.7" r="1.5"/><circle cx="568.5" cy="393.1" r="1.5"/><circle cx="569.1" cy="394.9" r="1.5"/><circle cx="569.6" cy="394.1" r="1.5"/><circle cx="570.2" cy="391.9" r="1.5"/><circle cx="570.7" cy="393.2" r="1.5"/><circle cx="571.3" cy="392.2" r="1.5"/><circle cx="571.8" cy="392.2" r="1.5"/><circle cx="572.4" cy="391.7" r="1.5"/><circle cx="572.9" cy="390.0" r="1.5"/><circle cx="573.5" cy="390.5" r="1.5"/><circle cx="574.0" cy="391.3" r="1.5"/><circle cx="574.6" cy="389.4" r="1.5"/><circle cx="575.1" cy="388.6" r="1.5"/><circle cx="575.7" cy="387.9" r="1.5"/><circle cx="576.2" cy="387.5" r="1.5"/><circle cx="576.8" cy="388.1" r="1.5"/><circle cx="577.3" cy="388.6" r="1.5"/><circle cx="577.9" cy="387.3" r="1.5"/><circle cx="578.4" cy="386.7" r="1.5"/><circle cx="579.0" cy="387.6" r="1.5"/><circle cx="579.5" cy="385.2" r="1.5"/><circle cx="580.1" cy="384.6" r="1.5"/><circle cx="580.6" cy="385.0" r="1.5"/><circle cx="581.2" cy="384.5" r="1.5"/><circle cx="581.7" cy="383.0" r="1.5"/><circle cx="582.3" cy="382.4" r="1.5"/><circle cx="582.8" cy="382.9" r="1.5"/><circle cx="583.4" cy="382.4" r="1.5"/><circle cx="583.9" cy="380.9" r="1.5"/><circle cx="584.5" cy="381.2" r="1.5"/><circle cx="585.0" cy="380.5" r="1.5"/><circle cx="585.6" cy="381.0" r="1.5"/><circle cx="586.1" cy="380.5" r="1.5"/><circle cx="586.7" cy="380.3" r="1.5"/><circle cx="587.2" cy="380.0" r="1.5"/><circle cx="587.8" cy="380.9" r="1.5"/><circle cx="588.3" cy="381.0" r="1.5"/><circle cx="588.9" cy="379.6" r="1.5"/><circle cx="589.4" cy="380.3" r="1.5"/><circle cx="590.0" cy="379.0" r="1.5"/><circle cx="590.5" cy="379.5" r="1.5"/><circle cx="591.1" cy="379.8" r="1.5"/><circle cx="591.6" cy="380.2" r="1.5"/><circle cx="592.2" cy="378.8" r="1.5"/><circle cx="592.7" cy="378.8" r="1.5"/><circle cx="593.3" cy="379.0" r="1.5"/><circle cx="593.8" cy="377.9" r="1.5"/><circle cx="594.4" cy="379.0" r="1.5"/><circle cx="594.9" cy="378.6" r="1.5"/><circle cx="595.5" cy="379.4" r="1.5"/><circle cx="596.0" cy="378.4" r="1.5"/><circle cx="596.6" cy="377.9" r="1.5"/><circle cx="597.1" cy="379.4" r="1.5"/><circle cx="597.7" cy="379.6" r="1.5"/><circle cx="598.2" cy="379.1" r="1.5"/><circle cx="598.8" cy="380.2" r="1.5"/><circle cx="599.3" cy="379.5" r="1.5"/><circle cx="599.9" cy="379.3" r="1.5"/><circle cx="600.4" cy="380.6" r="1.5"/><circle cx="601.0" cy="380.1" r="1.5"/><circle cx="601.5" cy="381.7" r="1.5"/><circle cx="602.1" cy="383.2" r="1.5"/><circle cx="602.6" cy="384.8" r="1.5"/><circle cx="603.2" cy="385.0" r="1.5"/><circle cx="603.7" cy="386.4" r="1.5"/><circle cx="604.3" cy="386.7" r="1.5"/><circle cx="604.8" cy="388.3" r="1.5"/><circle cx="605.4" cy="390.1" r="1.5"/><circle cx="605.9" cy="388.7" r="1.5"/><circle cx="606.5" cy="391.0" r="1.5"/><circle cx="607.0" cy="389.1" r="1.5"/><circle cx="607.6" cy="389.8" r="1.5"/><circle cx="608.1" cy="390.1" r="1.5"/><circle cx="608.7" cy="390.9" r="1.5"/><circle cx="609.2" cy="389.5" r="1.5"/><circle cx="609.8" cy="389.1" r="1.5"/><circle cx="610.3" cy="391.2" r="1.5"/><circle cx="610.9" cy="391.6" r="1.5"/><circle cx="611.4" cy="391.6" r="1.5"/><circle cx="612.0" cy="393.3" r="1.5"/><circle cx="612.5" cy="391.8" r="1.5"/><circle cx="613.1" cy="392.0" r="1.5"/><circle cx="613.6" cy="392.6" r="1.5"/><circle cx="614.2" cy="392.2" r="1.5"/><circle cx="614.7" cy="393.1" r="1.5"/><circle cx="615.3" cy="391.0" r="1.5"/><circle cx="615.8" cy="391.6" r="1.5"/><circle cx="616.4" cy="389.5" r="1.5"/><circle cx="616.9" cy="392.5" r="1.5"/><circle cx="617.5" cy="391.6" r="1.5"/><circle cx="618.0" cy="392.5" r="1.5"/><circle cx="618.6" cy="393.4" r="1.5"/><circle cx="619.1" cy="391.9" r="1.5"/><circle cx="619.7" cy="391.7" r="1.5"/><circle cx="620.2" cy="391.6" r="1.5"/><circle cx="620.8" cy="391.3" r="1.5"/><circle cx="621.3" cy="391.5" r="1.5"/><circle cx="621.9" cy="392.3" r="1.5"/><circle cx="622.4" cy="391.9" r="1.5"/><circle cx="623.0" cy="391.9" r="1.5"/><circle cx="623.5" cy="391.8" r="1.5"/><circle cx="624.1" cy="392.5" r="1.5"/><circle cx="624.6" cy="392.2" r="1.5"/><circle cx="625.2" cy="391.8" r="1.5"/><circle cx="625.7" cy="392.4" r="1.5"/><circle cx="626.3" cy="391.8" r="1.5"/><circle cx="626.8" cy="391.1" r="1.5"/><circle cx="627.4" cy="392.9" r="1.5"/><circle cx="627.9" cy="392.2" r="1.5"/><circle cx="628.5" cy="391.2" r="1.5"/><circle cx="629.0" cy="392.7" r="1.5"/><circle cx="629.6" cy="392.1" r="1.5"/><circle cx="630.1" cy="390.8" r="1.5"/><circle cx="630.7" cy="393.0" r="1.5"/><circle cx="631.2" cy="392.1" r="1.5"/><circle cx="631.8" cy="392.6" r="1.5"/><circle cx="632.3" cy="392.2" r="1.5"/><circle cx="632.9" cy="392.1" r="1.5"/><circle cx="633.4" cy="391.3" r="1.5"/><circle cx="634.0" cy="393.2" r="1.5"/><circle cx="634.5" cy="392.7" r="1.5"/><circle cx="635.1" cy="392.6" r="1.5"/><circle cx="635.6" cy="393.1" r="1.5"/><circle cx="636.2" cy="392.0" r="1.5"/><circle cx="636.7" cy="391.6" r="1.5"/><circle cx="637.3" cy="390.0" r="1.5"/><circle cx="637.8" cy="389.4" r="1.5"/><circle cx="638.4" cy="387.1" r="1.5"/><circle cx="638.9" cy="387.5" r="1.5"/><circle cx="639.5" cy="387.4" r="1.5"/><circle cx="640.0" cy="387.4" r="1.5"/><circle cx="640.6" cy="386.7" r="1.5"/><circle cx="641.1" cy="387.5" r="1.5"/><circle cx="641.7" cy="389.2" r="1.5"/><circle cx="642.2" cy="388.4" r="1.5"/><circle cx="642.8" cy="389.7" r="1.5"/><circle cx="643.3" cy="390.9" r="1.5"/><circle cx="643.9" cy="390.3" r="1.5"/><circle cx="644.4" cy="394.5" r="1.5"/><circle cx="645.0" cy="396.5" r="1.5"/><circle cx="645.5" cy="400.5" r="1.5"/><circle cx="646.1" cy="403.7" r="1.5"/><circle cx="646.6" cy="407.1" r="1.5"/><circle cx="647.2" cy="410.7" r="1.5"/><circle cx="647.7" cy="414.5" r="1.5"/><circle cx="648.3" cy="415.3" r="1.5"/><circle cx="648.8" cy="418.3" r="1.5"/><circle cx="649.4" cy="421.9" r="1.5"/><circle cx="649.9" cy="423.7" r="1.5"/><circle cx="650.5" cy="427.7" r="1.5"/><circle cx="651.0" cy="430.6" r="1.5"/><circle cx="651.6" cy="432.7" r="1.5"/><circle cx="652.1" cy="436.1" r="1.5"/><circle cx="652.7" cy="437.4" r="1.5"/><circle cx="653.2" cy="441.7" r="1.5"/><circle cx="653.8" cy="442.9" r="1.5"/><circle cx="654.3" cy="446.2" r="1.5"/><circle cx="654.9" cy="449.1" r="1.5"/><circle cx="655.4" cy="452.0" r="1.5"/><circle cx="656.0" cy="454.9" r="1.5"/><circle cx="656.5" cy="455.3" r="1.5"/><circle cx="657.1" cy="455.9" r="1.5"/><circle cx="657.6" cy="457.4" r="1.5"/><circle cx="658.2" cy="459.1" r="1.5"/><circle cx="658.7" cy="458.9" r="1.5"/><circle cx="659.3" cy="460.0" r="1.5"/><circle cx="659.8" cy="461.6" r="1.5"/><circle cx="660.4" cy="461.8" r="1.5"/><circle cx="660.9" cy="461.6" r="1.5"/><circle cx="661.5" cy="465.1" r="1.5"/><circle cx="662.0" cy="465.9" r="1.5"/><circle cx="662.6" cy="463.8" r="1.5"/><circle cx="663.1" cy="466.1" r="1.5"/><circle cx="663.7" cy="467.3" r="1.5"/><circle cx="664.2" cy="468.2" r="1.5"/><circle cx="664.8" cy="468.4" r="1.5"/><circle cx="665.3" cy="468.1" r="1.5"/><circle cx="665.9" cy="468.0" r="1.5"/><circle cx="666.4" cy="469.2" r="1.5"/><circle cx="667.0" cy="470.2" r="1.5"/><circle cx="667.5" cy="469.1" r="1.5"/><circle cx="668.1" cy="469.6" r="1.5"/><circle cx="668.6" cy="470.7" r="1.5"/><circle cx="669.2" cy="469.7" r="1.5"/><circle cx="669.7" cy="471.3" r="1.5"/><circle cx="670.3" cy="471.6" r="1.5"/><circle cx="670.8" cy="472.6" r="1.5"/><circle cx="671.4" cy="472.2" r="1.5"/><circle cx="671.9" cy="472.5" r="1.5"/><circle cx="672.5" cy="473.2" r="1.5"/><circle cx="673.0" cy="473.8" r="1.5"/><circle cx="673.6" cy="473.6" r="1.5"/><circle cx="674.1" cy="474.3" r="1.5"/><circle cx="674.7" cy="475.1" r="1.5"/><circle cx="675.2" cy="475.6" r="1.5"/><circle cx="675.8" cy="476.2" r="1.5"/><circle cx="676.3" cy="474.6" r="1.5"/><circle cx="676.9" cy="475.1" r="1.5"/><circle cx="677.4" cy="473.9" r="1.5"/><circle cx="678.0" cy="477.2" r="1.5"/><circle cx="678.5" cy="475.6" r="1.5"/><circle cx="679.1" cy="476.3" r="1.5"/><circle cx="679.6" cy="476.9" r="1.5"/><circle cx="680.2" cy="475.8" r="1.5"/><circle cx="680.7" cy="477.3" r="1.5"/><circle cx="681.3" cy="477.1" r="1.5"/><circle cx="681.8" cy="476.1" r="1.5"/><circle cx="682.4" cy="477.8" r="1.5"/><circle cx="682.9" cy="478.7" r="1.5"/><circle cx="683.5" cy="476.7" r="1.5"/><circle cx="684.0" cy="478.8" r="1.5"/><circle cx="684.6" cy="478.6" r="1.5"/><circle cx="685.1" cy="479.0" r="1.5"/><circle cx="685.7" cy="479.2" r="1.5"/><circle cx="686.2" cy="480.1" r="1.5"/><circle cx="686.8" cy="479.2" r="1.5"/><circle cx="687.3" cy="480.1" r="1.5"/><circle cx="687.9" cy="479.4" r="1.5"/><circle cx="688.4" cy="480.3" r="1.5"/><circle cx="689.0" cy="479.4" r="1.5"/><circle cx="689.5" cy="480.1" r="1.5"/><circle cx="690.1" cy="481.5" r="1.5"/><circle cx="690.6" cy="480.8" r="1.5"/><circle cx="691.2" cy="480.5" r="1.5"/><circle cx="691.7" cy="480.0" r="1.5"/><circle cx="692.3" cy="480.4" r="1.5"/><circle cx="692.8" cy="481.3" r="1.5"/><circle cx="693.4" cy="482.0" r="1.5"/><circle cx="693.9" cy="481.8" r="1.5"/><circle cx="694.5" cy="482.0" r="1.5"/><circle cx="695.0" cy="481.8" r="1.5"/><circle cx="695.6" cy="482.9" r="1.5"/><circle cx="696.1" cy="481.9" r="1.5"/><circle cx="696.7" cy="481.9" r="1.5"/><circle cx="697.2" cy="483.1" r="1.5"/><circle cx="697.8" cy="482.7" r="1.5"/><circle cx="698.3" cy="482.6" r="1.5"/><circle cx="698.9" cy="482.6" r="1.5"/><circle cx="699.4" cy="483.0" r="1.5"/><circle cx="700.0" cy="483.7" r="1.5"/><circle cx="700.5" cy="483.6" r="1.5"/><circle cx="701.1" cy="482.6" r="1.5"/><circle cx="701.6" cy="483.9" r="1.5"/><circle cx="702.2" cy="483.8" r="1.5"/><circle cx="702.7" cy="483.1" r="1.5"/><circle cx="703.3" cy="484.5" r="1.5"/><circle cx="703.8" cy="483.8" r="1.5"/><circle cx="704.4" cy="483.9" r="1.5"/><circle cx="704.9" cy="484.8" r="1.5"/><circle cx="705.5" cy="485.3" r="1.5"/><circle cx="706.0" cy="484.0" r="1.5"/><circle cx="706.6" cy="484.9" r="1.5"/><circle cx="707.1" cy="484.1" r="1.5"/><circle cx="707.7" cy="486.4" r="1.5"/><circle cx="708.2" cy="484.5" r="1.5"/><circle cx="708.8" cy="485.8" r="1.5"/><circle cx="709.3" cy="484.7" r="1.5"/><circle cx="709.9" cy="485.8" r="1.5"/><circle cx="710.4" cy="486.9" r="1.5"/><circle cx="711.0" cy="483.6" r="1.5"/><circle cx="711.5" cy="485.2" r="1.5"/><circle cx="712.1" cy="486.0" r="1.5"/><circle cx="712.6" cy="485.7" r="1.5"/><circle cx="713.2" cy="485.4" r="1.5"/><circle cx="713.7" cy="487.5" r="1.5"/><circle cx="714.3" cy="486.1" r="1.5"/><circle cx="714.8" cy="485.0" r="1.5"/><circle cx="715.4" cy="486.9" r="1.5"/><circle cx="715.9" cy="485.2" r="1.5"/><circle cx="716.5" cy="487.3" r="1.5"/><circle cx="717.0" cy="486.2" r="1.5"/><circle cx="717.6" cy="486.9" r="1.5"/><circle cx="718.1" cy="487.7" r="1.5"/><circle cx="718.7" cy="487.1" r="1.5"/><circle cx="719.2" cy="486.1" r="1.5"/><circle cx="719.8" cy="486.0" r="1.5"/><circle cx="720.3" cy="488.1" r="1.5"/><circle cx="720.9" cy="487.9" r="1.5"/><circle cx="721.4" cy="487.0" r="1.5"/><circle cx="722.0" cy="488.2" r="1.5"/><circle cx="722.5" cy="488.1" r="1.5"/><circle cx="723.1" cy="488.3" r="1.5"/><circle cx="723.6" cy="486.4" r="1.5"/><circle cx="724.2" cy="487.9" r="1.5"/><circle cx="724.7" cy="488.8" r="1.5"/><circle cx="725.3" cy="488.8" r="1.5"/><circle cx="725.8" cy="489.0" r="1.5"/><circle cx="726.4" cy="486.8" r="1.5"/><circle cx="726.9" cy="488.6" r="1.5"/><circle cx="727.5" cy="488.9" r="1.5"/><circle cx="728.0" cy="490.4" r="1.5"/><circle cx="728.6" cy="487.9" r="1.5"/><circle cx="729.1" cy="488.4" r="1.5"/><circle cx="729.7" cy="488.7" r="1.5"/><circle cx="730.2" cy="489.3" r="1.5"/><circle cx="730.8" cy="488.4" r="1.5"/><circle cx="731.3" cy="489.5" r="1.5"/><circle cx="731.9" cy="488.2" r="1.5"/><circle cx="732.4" cy="488.9" r="1.5"/><circle cx="733.0" cy="488.4" r="1.5"/><circle cx="733.5" cy="488.9" r="1.5"/><circle cx="734.1" cy="488.3" r="1.5"/><circle cx="734.6" cy="487.7" r="1.5"/><circle cx="735.2" cy="489.6" r="1.5"/><circle cx="735.7" cy="489.1" r="1.5"/><circle cx="736.3" cy="488.5" r="1.5"/><circle cx="736.8" cy="489.0" r="1.5"/><circle cx="737.4" cy="489.6" r="1.5"/><circle cx="737.9" cy="488.3" r="1.5"/><circle cx="738.5" cy="488.9" r="1.5"/><circle cx="739.0" cy="489.4" r="1.5"/><circle cx="739.6" cy="489.4" r="1.5"/><circle cx="740.1" cy="488.8" r="1.5"/><circle cx="740.7" cy="487.6" r="1.5"/><circle cx="741.2" cy="490.0" r="1.5"/><circle cx="741.8" cy="489.4" r="1.5"/><circle cx="742.3" cy="489.2" r="1.5"/><circle cx="742.9" cy="489.1" r="1.5"/><circle cx="743.4" cy="489.5" r="1.5"/><circle cx="744.0" cy="489.0" r="1.5"/><circle cx="744.5" cy="488.7" r="1.5"/><circle cx="745.1" cy="488.9" r="1.5"/><circle cx="745.6" cy="489.0" r="1.5"/><circle cx="746.2" cy="489.1" r="1.5"/><circle cx="746.7" cy="488.7" r="1.5"/><circle cx="747.3" cy="490.0" r="1.5"/><circle cx="747.8" cy="488.7" r="1.5"/><circle cx="748.4" cy="490.1" r="1.5"/><circle cx="748.9" cy="489.0" r="1.5"/><circle cx="749.5" cy="490.0" r="1.5"/><circle cx="750.0" cy="490.8" r="1.5"/></g>
<polygon points="591.1,352.9 605.3,352.9 598.2,369.1" fill="#8a22c8"/>
<text x="126.93" y="594.60" font-size="21.5" font-weight="bold" fill="#dd0000" >S700</text>
<text x="139.10" y="635.30" font-size="16" font-weight="normal" fill="#000" >nA</text>
<text x="5.74" y="785.90" font-size="16" font-weight="normal" fill="#000" >mV</text>
<line x1="154.50" y1="655.50" x2="154.50" y2="823.50" stroke="#a6a6a6" stroke-width="1"/>
<line x1="149.70" y1="655.50" x2="158.30" y2="655.50" stroke="#8a8a8a" stroke-width="1"/>
<text x="125.48" y="660.51" font-size="14.5" font-weight="bold" fill="#000" >15</text>
<line x1="149.70" y1="697.50" x2="158.30" y2="697.50" stroke="#8a8a8a" stroke-width="1"/>
<text x="125.67" y="702.54" font-size="14.5" font-weight="bold" fill="#000" >10</text>
<line x1="149.70" y1="739.50" x2="158.30" y2="739.50" stroke="#8a8a8a" stroke-width="1"/>
<text x="133.54" y="744.57" font-size="14.5" font-weight="bold" fill="#000" >5</text>
<line x1="149.70" y1="781.50" x2="158.30" y2="781.50" stroke="#8a8a8a" stroke-width="1"/>
<text x="133.73" y="786.60" font-size="14.5" font-weight="bold" fill="#000" >0</text>
<line x1="149.70" y1="823.50" x2="158.30" y2="823.50" stroke="#8a8a8a" stroke-width="1"/>
<text x="128.71" y="828.63" font-size="14.5" font-weight="bold" fill="#000" >-5</text>
<line x1="43.50" y1="781.50" x2="264.50" y2="781.50" stroke="#8a8a8a" stroke-width="1"/>
<line x1="43.50" y1="778.20" x2="43.50" y2="785.20" stroke="#8a8a8a" stroke-width="1"/>
<text x="31.10" y="800.70" font-size="12.4" font-weight="bold" fill="#000" >-100</text>
<line x1="98.50" y1="778.20" x2="98.50" y2="785.20" stroke="#8a8a8a" stroke-width="1"/>
<text x="89.80" y="800.70" font-size="12.4" font-weight="bold" fill="#000" >-50</text>
<line x1="154.50" y1="778.20" x2="154.50" y2="785.20" stroke="#8a8a8a" stroke-width="1"/>
<text x="150.56" y="800.70" font-size="12.4" font-weight="bold" fill="#000" >0</text>
<line x1="209.50" y1="778.20" x2="209.50" y2="785.20" stroke="#8a8a8a" stroke-width="1"/>
<text x="202.42" y="800.70" font-size="12.4" font-weight="bold" fill="#000" >50</text>
<line x1="264.50" y1="778.20" x2="264.50" y2="785.20" stroke="#8a8a8a" stroke-width="1"/>
<text x="254.02" y="800.70" font-size="12.4" font-weight="bold" fill="#000" >100</text>
<path d="M44.20,781.69 L45.20,781.38 L46.20,782.02 L47.20,782.04 L48.20,781.65 L49.20,781.32 L50.20,781.67 L51.20,781.23 L52.20,781.25 L53.20,781.62 L54.20,781.21 L55.20,781.63 L56.20,781.71 L57.20,781.15 L58.20,781.86 L59.20,781.20 L60.20,781.98 L61.20,782.03 L62.20,781.71 L63.20,781.17 L64.20,781.70 L65.20,781.55 L66.20,782.24 L67.20,781.26 L68.20,782.13 L69.20,782.30 L70.20,781.98 L71.20,782.08 L72.20,781.33 L73.20,782.28 L74.20,781.69 L75.20,782.25 L76.20,782.20 L77.20,781.30 L78.20,782.05 L79.20,782.22 L80.20,781.18 L81.20,781.52 L82.20,782.01 L83.20,781.29 L84.20,782.18 L85.20,781.43 L86.20,782.08 L87.20,781.27 L88.20,781.70 L89.20,782.20 L90.20,781.35 L91.20,781.42 L92.20,781.71 L93.20,781.48 L94.20,781.14 L95.20,781.32 L96.20,781.29 L97.20,782.22 L98.20,781.92 L99.20,782.17 L100.20,781.30 L101.20,782.04 L102.20,781.24 L103.20,781.74 L104.20,781.86 L105.20,781.53 L106.20,782.15 L107.20,781.77 L108.20,781.80 L109.20,782.16 L110.20,781.23 L111.20,782.29 L112.20,781.86 L113.20,781.57 L114.20,782.06 L115.20,781.42 L116.20,782.29 L117.20,781.79 L118.20,781.53 L119.20,782.02 L120.20,781.63 L121.20,781.31 L122.20,781.99 L123.20,781.16 L124.20,782.08 L125.20,781.40 L126.20,781.87 L127.20,782.28 L128.20,781.80 L129.20,781.90 L130.20,781.48 L131.20,781.10 L132.20,781.14 L133.20,781.28 L134.20,781.84 L135.20,781.62 L136.20,781.72 L137.20,782.17 L138.20,781.26 L139.20,781.37 L140.20,781.88 L141.20,781.13 L142.20,781.10 L143.20,781.53 L144.20,781.23 L145.20,781.53 L146.20,781.37 L147.20,781.80 L148.20,781.81 L149.20,781.35 L150.20,781.85 L151.20,781.67 L152.20,781.26 L153.20,782.22 L154.20,781.39 L155.20,781.28 L156.20,781.21 L157.20,781.87 L158.20,782.15 L159.20,782.04 L160.20,781.58 L161.20,781.42 L162.20,781.11 L163.20,781.87 L164.20,781.77 L165.20,781.52 L166.20,781.87 L167.20,781.63 L168.20,782.22 L169.20,781.98 L170.20,781.40 L171.20,782.18 L172.20,781.15 L173.20,781.74 L174.20,781.59 L175.20,781.39 L176.20,781.17 L177.20,782.03 L178.20,781.11 L179.20,781.76 L180.20,782.23 L181.20,781.27 L182.20,781.34 L183.20,781.83 L184.20,781.71 L185.20,781.87 L186.20,782.08 L187.20,781.31 L188.20,781.47 L189.20,781.46 L190.20,781.16 L191.20,782.17 L192.20,782.04 L193.20,781.96 L194.20,781.11 L195.20,782.11 L196.20,781.99 L197.20,781.66 L198.20,781.99 L199.20,781.64 L200.20,781.37 L201.20,781.23 L202.20,781.38 L203.20,781.15 L204.20,781.50 L205.20,782.00 L206.20,781.93 L207.20,782.11 L208.20,781.95 L209.20,781.42 L210.20,781.76 L211.20,781.62 L212.20,782.05 L213.20,781.73 L214.20,781.42 L215.20,781.87 L216.20,782.26 L217.20,781.36 L218.20,782.16 L219.20,781.12 L220.20,781.41 L221.20,781.38 L222.20,781.99 L223.20,782.23 L224.20,782.00 L225.20,781.49 L226.20,782.16 L227.20,781.49 L228.20,781.39 L229.20,782.19 L230.20,781.86 L231.20,781.93 L232.20,781.90 L233.20,782.27 L234.20,781.66 L235.20,782.11 L236.20,781.94 L237.20,782.13 L238.20,781.62 L239.20,781.97 L240.20,781.78 L241.20,781.47 L242.20,781.35 L243.20,781.85 L244.20,781.19 L245.20,782.19 L246.20,781.27 L247.20,781.13 L248.20,781.23 L249.20,782.21 L250.20,781.51 L251.20,781.27 L252.20,781.13 L253.20,781.15 L254.20,781.93 L255.20,781.86 L256.20,781.94 L257.20,781.98 L258.20,781.18 L259.20,781.81 L260.20,781.54 L261.20,782.08 L262.20,782.08 L263.20,782.17 L264.20,781.18" fill="none" stroke="#8a8a8a" stroke-width="1.2"/>
<path d="M44.50,802.68 L46.00,802.54 L47.50,802.38 L49.00,802.20 L50.50,802.00 L52.00,801.79 L53.50,801.56 L55.00,801.31 L56.50,801.04 L58.00,800.76 L59.50,800.46 L61.00,800.15 L62.50,799.82 L64.00,799.47 L65.50,799.11 L67.00,798.73 L68.50,798.33 L70.00,797.92 L71.50,797.50 L73.00,797.05 L74.50,796.60 L76.00,796.13 L77.50,795.64 L79.00,795.14 L80.50,794.63 L82.00,794.10 L83.50,793.55 L85.00,793.00 L86.50,792.43 L88.00,791.84 L89.50,791.24 L91.00,790.63 L92.50,790.01 L94.00,789.37 L95.50,788.72 L97.00,788.05 L98.50,787.38 L100.00,786.69 L101.50,785.99 L103.00,785.27 L104.50,784.55 L106.00,783.81 L107.50,783.06 L109.00,782.30 L110.50,781.53 L112.00,780.74 L113.50,779.95 L115.00,779.14 L116.50,778.32 L118.00,777.49 L119.50,776.65 L121.00,775.80 L122.50,774.94 L124.00,774.07 L125.50,773.19 L127.00,772.30 L128.50,771.40 L130.00,770.49 L131.50,769.57 L133.00,768.63 L134.50,767.69 L136.00,766.74 L137.50,765.79 L139.00,764.82 L140.50,763.84 L142.00,762.85 L143.50,761.86 L145.00,760.85 L146.50,759.84 L148.00,758.82 L149.50,757.79 L151.00,756.75 L152.50,755.71 L154.00,754.66 L155.50,753.59 L157.00,752.52 L158.50,751.45 L160.00,750.36 L161.50,749.27 L163.00,748.17 L164.50,747.06 L166.00,745.95 L167.50,744.83 L169.00,743.70 L170.50,742.56 L172.00,741.42 L173.50,740.27 L175.00,739.12 L176.50,737.95 L178.00,736.79 L179.50,735.61 L181.00,734.43 L182.50,733.24 L184.00,732.05 L185.50,730.85 L187.00,729.65 L188.50,728.43 L190.00,727.22 L191.50,726.00 L193.00,724.77 L194.50,723.53 L196.00,722.30 L197.50,721.05 L199.00,719.80 L200.50,718.55 L202.00,717.29 L203.50,716.03 L205.00,714.76 L206.50,713.48 L208.00,712.20 L209.50,710.92 L211.00,709.63 L212.50,708.34 L214.00,707.05 L215.50,705.74 L217.00,704.44 L218.50,703.13 L220.00,701.82 L221.50,700.50 L223.00,699.18 L224.50,697.85 L226.00,696.52 L227.50,695.19 L229.00,693.85 L230.50,692.51 L232.00,691.17 L233.50,689.82 L235.00,688.47 L236.50,687.11 L238.00,685.76 L239.50,684.39 L241.00,683.03 L242.50,681.66 L244.00,680.29 L245.50,678.92 L247.00,677.54 L248.50,676.16 L250.00,674.78 L251.50,673.39 L253.00,672.00 L254.50,670.61 L256.00,669.22 L257.50,667.82 L259.00,666.42 L260.50,665.02 L262.00,663.62 L263.50,662.21 L265.00,660.80" fill="none" stroke="#111" stroke-width="1.8"/>
<path d="M44.50,803.34 L46.00,803.17 L47.50,802.98 L49.00,802.78 L50.50,802.55 L52.00,802.31 L53.50,802.06 L55.00,801.78 L56.50,801.50 L58.00,801.19 L59.50,800.87 L61.00,800.53 L62.50,800.18 L64.00,799.81 L65.50,799.42 L67.00,799.02 L68.50,798.60 L70.00,798.17 L71.50,797.72 L73.00,797.26 L74.50,796.78 L76.00,796.29 L77.50,795.78 L79.00,795.26 L80.50,794.72 L82.00,794.17 L83.50,793.61 L85.00,793.02 L86.50,792.43 L88.00,791.82 L89.50,791.20 L91.00,790.56 L92.50,789.91 L94.00,789.25 L95.50,788.57 L97.00,787.88 L98.50,787.17 L100.00,786.45 L101.50,785.72 L103.00,784.98 L104.50,784.22 L106.00,783.45 L107.50,782.67 L109.00,781.87 L110.50,781.06 L112.00,780.24 L113.50,779.41 L115.00,778.57 L116.50,777.71 L118.00,776.84 L119.50,775.96 L121.00,775.07 L122.50,774.16 L124.00,773.25 L125.50,772.32 L127.00,771.39 L128.50,770.44 L130.00,769.48 L131.50,768.51 L133.00,767.53 L134.50,766.54 L136.00,765.53 L137.50,764.52 L139.00,763.50 L140.50,762.46 L142.00,761.42 L143.50,760.37 L145.00,759.31 L146.50,758.23 L148.00,757.15 L149.50,756.06 L151.00,754.96 L152.50,753.85 L154.00,752.73 L155.50,751.60 L157.00,750.47 L158.50,749.32 L160.00,748.17 L161.50,747.01 L163.00,745.84 L164.50,744.66 L166.00,743.47 L167.50,742.28 L169.00,741.07 L170.50,739.86 L172.00,738.64 L173.50,737.42 L175.00,736.19 L176.50,734.95 L178.00,733.70 L179.50,732.44 L181.00,731.18 L182.50,729.92 L184.00,728.64 L185.50,727.36 L187.00,726.07 L188.50,724.78 L190.00,723.48 L191.50,722.17 L193.00,720.86 L194.50,719.55 L196.00,718.22 L197.50,716.89 L199.00,715.56 L200.50,714.22 L202.00,712.88 L203.50,711.53 L205.00,710.18 L206.50,708.82 L208.00,707.46 L209.50,706.09 L211.00,704.72 L212.50,703.34 L214.00,701.96 L215.50,700.58 L217.00,699.19 L218.50,697.80 L220.00,696.40 L221.50,695.01 L223.00,693.60 L224.50,692.20 L226.00,690.79 L227.50,689.38 L229.00,687.97 L230.50,686.55 L232.00,685.14 L233.50,683.71 L235.00,682.29 L236.50,680.87 L238.00,679.44 L239.50,678.01 L241.00,676.58 L242.50,675.15 L244.00,673.72 L245.50,672.28 L247.00,670.85 L248.50,669.41 L250.00,667.97 L251.50,666.53 L253.00,665.09 L254.50,663.66 L256.00,662.22 L257.50,660.78 L259.00,659.34 L260.50,657.90 L262.00,656.46 L263.50,655.02 L265.00,653.58" fill="none" stroke="#d21ad6" stroke-width="1.8"/>
<text x="399.06" y="595.20" font-size="21.5" font-weight="bold" fill="#3b3bea" >S737</text>
<text x="410.10" y="635.90" font-size="16" font-weight="normal" fill="#000" >nA</text>
<text x="288.04" y="785.40" font-size="16" font-weight="normal" fill="#000" >mV</text>
<line x1="425.50" y1="647.30" x2="425.50" y2="822.50" stroke="#a6a6a6" stroke-width="1"/>
<line x1="420.70" y1="647.50" x2="429.30" y2="647.50" stroke="#8a8a8a" stroke-width="1"/>
<text x="391.55" y="652.30" font-size="14.5" font-weight="bold" fill="#000" >2.1</text>
<line x1="420.70" y1="691.50" x2="429.30" y2="691.50" stroke="#8a8a8a" stroke-width="1"/>
<text x="391.22" y="696.10" font-size="14.5" font-weight="bold" fill="#000" >1.4</text>
<line x1="420.70" y1="735.50" x2="429.30" y2="735.50" stroke="#8a8a8a" stroke-width="1"/>
<text x="391.78" y="739.90" font-size="14.5" font-weight="bold" fill="#000" >0.7</text>
<line x1="420.70" y1="778.50" x2="429.30" y2="778.50" stroke="#8a8a8a" stroke-width="1"/>
<text x="403.83" y="783.70" font-size="14.5" font-weight="bold" fill="#000" >0</text>
<line x1="420.70" y1="822.50" x2="429.30" y2="822.50" stroke="#8a8a8a" stroke-width="1"/>
<text x="386.95" y="827.50" font-size="14.5" font-weight="bold" fill="#000" >-0.7</text>
<line x1="324.40" y1="778.50" x2="525.60" y2="778.50" stroke="#8a8a8a" stroke-width="1"/>
<line x1="324.50" y1="775.30" x2="324.50" y2="782.30" stroke="#8a8a8a" stroke-width="1"/>
<text x="312.00" y="798.40" font-size="12.4" font-weight="bold" fill="#000" >-100</text>
<line x1="374.50" y1="775.30" x2="374.50" y2="782.30" stroke="#8a8a8a" stroke-width="1"/>
<text x="365.75" y="798.40" font-size="12.4" font-weight="bold" fill="#000" >-50</text>
<line x1="425.50" y1="775.30" x2="425.50" y2="782.30" stroke="#8a8a8a" stroke-width="1"/>
<text x="421.56" y="798.40" font-size="12.4" font-weight="bold" fill="#000" >0</text>
<line x1="475.50" y1="775.30" x2="475.50" y2="782.30" stroke="#8a8a8a" stroke-width="1"/>
<text x="468.47" y="798.40" font-size="12.4" font-weight="bold" fill="#000" >50</text>
<line x1="525.50" y1="775.30" x2="525.50" y2="782.30" stroke="#8a8a8a" stroke-width="1"/>
<text x="515.12" y="798.40" font-size="12.4" font-weight="bold" fill="#000" >100</text>
<path d="M324.69,779.48 L325.35,777.38 L325.38,777.39 L325.84,779.31 L327.05,778.75 L327.67,778.75 L327.85,777.37 L328.30,779.08 L328.99,777.94 L329.76,777.17 L330.23,777.85 L331.19,778.07 L331.49,779.62 L332.23,779.33 L332.93,777.20 L333.37,778.25 L334.25,778.02 L334.80,778.52 L335.02,779.36 L335.53,779.25 L336.19,777.13 L336.82,779.11 L338.03,777.14 L338.25,778.41 L339.09,779.78 L339.46,778.03 L340.32,777.81 L341.01,777.87 L341.04,780.72 L341.87,777.42 L342.58,777.35 L343.30,778.95 L343.90,778.77 L344.17,780.83 L344.80,779.46 L345.16,779.45 L345.72,777.68 L346.50,779.49 L347.29,778.13 L348.19,777.75 L348.47,778.53 L349.30,779.11 L349.81,778.06 L350.17,777.56 L351.17,778.87 L351.70,777.59 L352.06,779.17 L352.77,777.48 L353.29,779.46 L353.71,777.66 L354.36,778.99 L355.39,776.02 L355.46,777.81 L356.19,778.52 L356.66,778.02 L357.29,779.70 L358.31,777.43 L359.10,777.43 L359.25,776.37 L360.17,779.08 L360.49,777.68 L361.25,777.45 L361.52,778.18 L361.99,778.21 L363.18,778.98 L363.56,778.82 L364.13,777.55 L364.84,778.23 L365.55,779.54 L365.91,778.67 L366.76,778.28 L366.96,779.06 L368.07,779.20 L368.53,779.40 L369.12,778.86 L369.54,778.00 L370.28,777.45 L370.72,779.23 L371.55,778.83 L371.79,778.30 L372.56,778.81 L373.12,778.95 L374.13,777.67 L374.52,782.11 L374.91,778.47 L375.97,777.30 L376.24,774.57 L377.03,779.65 L377.43,777.47 L378.07,778.61 L378.79,778.54 L379.33,779.36 L379.84,778.28 L380.77,777.76 L381.17,778.23 L381.83,777.53 L382.61,774.72 L382.49,777.93 L383.36,777.25 L383.97,778.31 L384.79,778.14 L385.06,777.80 L386.03,779.67 L386.47,777.79 L387.28,778.24 L387.43,777.56 L388.47,776.99 L388.96,778.45 L389.51,777.82 L390.42,778.15 L390.77,777.79 L391.51,778.45 L391.71,778.66 L392.18,779.40 L392.96,779.45 L393.49,778.22 L394.09,778.35 L394.64,777.25 L395.66,777.97 L395.89,778.03 L396.67,778.36 L397.40,778.96 L397.78,779.66 L398.77,777.40 L399.35,779.60 L399.92,777.61 L400.56,778.90 L400.53,777.28 L401.86,778.96 L401.91,777.52 L402.43,777.86 L403.53,778.16 L403.65,779.61 L404.75,777.70 L405.43,778.84 L405.94,779.00 L406.63,779.31 L407.19,777.78 L407.68,778.65 L408.32,778.41 L409.03,778.71 L409.15,777.88 L409.66,778.55 L410.20,778.49 L410.87,778.55 L411.75,778.68 L412.63,777.29 L413.22,778.49 L413.60,779.01 L414.42,778.25 L414.70,779.78 L415.03,778.94 L416.07,777.36 L416.65,779.06 L417.51,778.14 L418.15,778.61 L418.36,779.62 L418.61,780.98 L419.68,778.17 L420.46,778.24 L420.76,778.66 L421.60,777.84 L421.94,778.39 L422.63,779.44 L423.03,777.63 L423.72,778.61 L424.22,778.62 L425.37,779.00 L425.83,778.15 L426.06,778.07 L426.87,778.93 L427.63,777.38 L428.19,779.57 L428.65,777.39 L429.06,777.27 L429.58,779.65 L430.51,778.96 L431.25,779.61 L431.71,778.84 L432.33,779.04 L432.91,778.99 L433.21,778.95 L434.00,779.19 L434.33,777.68 L434.88,779.21 L436.17,778.90 L436.34,779.33 L437.27,778.64 L437.46,777.96 L438.19,778.00 L438.80,778.83 L439.80,777.30 L440.11,777.25 L440.36,776.76 L441.32,779.53 L441.83,777.17 L442.38,778.67 L443.41,779.67 L443.66,778.19 L443.97,778.78 L444.65,777.50 L445.10,777.11 L446.23,777.41 L447.05,777.31 L447.58,777.41 L447.51,778.94 L448.29,778.97 L448.85,777.19 L449.91,778.91 L450.58,778.95 L450.58,778.68 L451.67,778.23 L452.45,777.69 L453.07,778.89 L452.93,777.06 L454.03,779.14 L454.19,777.82 L455.30,777.43 L456.00,778.26 L455.98,777.94 L456.99,778.12 L457.67,777.35 L458.36,777.92 L458.85,778.60 L459.27,777.96 L460.16,779.41 L460.76,778.42 L460.98,775.09 L462.12,778.76 L462.60,777.79 L463.03,779.46 L463.81,778.48 L464.01,778.03 L465.06,777.88 L465.50,778.46 L466.27,778.99 L466.40,776.89 L466.98,777.98 L467.84,781.40 L468.67,774.43 L469.23,778.97 L469.86,778.34 L470.00,779.06 L471.02,778.62 L471.71,777.74 L471.66,778.27 L472.82,777.35 L473.39,779.24 L473.59,778.39 L474.53,778.02 L474.77,777.47 L475.80,778.86 L476.17,777.02 L477.05,778.79 L477.20,778.29 L478.32,779.07 L478.63,778.01 L479.29,777.25 L479.58,777.22 L480.58,777.69 L481.07,777.79 L481.64,777.12 L481.87,779.32 L482.73,777.00 L483.54,778.77 L483.77,778.27 L484.52,778.06 L484.87,776.79 L486.22,778.95 L486.43,778.16 L486.86,778.71 L487.59,779.14 L488.46,778.80 L489.22,777.33 L489.10,777.18 L489.81,776.87 L490.31,778.10 L491.55,779.35 L492.21,775.67 L492.13,778.18 L492.99,776.94 L494.03,775.39 L494.33,778.28 L495.23,778.35 L495.40,777.77 L495.82,779.10 L497.07,777.16 L496.93,777.25 L497.77,778.92 L498.81,778.75 L498.74,778.61 L499.86,778.24 L500.68,776.70 L500.62,778.51 L501.85,778.30 L501.95,778.07 L502.91,776.80 L503.17,777.19 L503.62,777.77 L504.26,777.13 L504.84,778.27 L505.34,780.15 L506.09,776.59 L507.26,777.06 L507.87,775.51 L508.43,776.84 L508.69,776.72 L509.67,778.65 L510.04,777.63 L510.42,775.31 L511.12,778.08 L511.47,777.01 L512.00,778.29 L512.99,776.80 L513.84,777.11 L514.09,774.69 L514.58,778.59 L515.23,776.84 L515.95,777.22 L516.88,776.69 L517.54,776.53 L518.08,778.12 L518.15,777.61 L518.81,777.04 L519.34,777.31 L520.56,778.95 L521.11,776.60 L521.22,778.67 L521.64,778.22 L522.43,778.87 L522.81,778.42 L523.67,776.68 L524.01,778.48 L525.02,776.79 L525.60,777.60" fill="none" stroke="#8c8c8c" stroke-width="1.5"/>
<path d="M325.78,788.88 L326.15,788.42 L326.74,788.85 L327.28,786.39 L327.72,789.50 L328.47,786.23 L328.99,788.20 L329.63,787.59 L330.49,788.09 L330.80,790.27 L331.38,787.72 L332.43,787.32 L332.81,788.63 L333.64,787.16 L333.98,785.99 L334.61,788.54 L335.12,788.41 L335.91,786.85 L336.49,786.55 L337.25,786.69 L337.98,787.24 L338.27,786.44 L339.03,786.26 L339.80,785.97 L340.20,786.70 L340.66,787.04 L341.34,786.72 L342.05,785.94 L342.55,785.40 L343.02,786.84 L343.71,786.37 L344.19,784.17 L344.95,785.86 L345.51,784.90 L346.13,782.98 L346.62,786.02 L347.32,785.30 L348.30,785.95 L348.89,786.04 L349.04,784.77 L349.58,785.49 L350.57,784.74 L351.02,785.27 L351.80,784.35 L352.49,784.47 L352.96,784.04 L353.26,785.41 L354.24,784.92 L354.42,783.48 L355.10,783.76 L355.79,786.28 L356.24,783.90 L357.20,783.60 L357.93,784.34 L358.46,783.67 L358.89,784.49 L359.44,783.09 L360.34,782.69 L360.62,783.09 L361.56,784.18 L361.68,783.42 L362.32,784.47 L362.99,784.68 L363.91,782.99 L364.49,783.56 L365.12,784.39 L365.45,782.88 L366.45,783.50 L367.05,784.00 L367.53,784.24 L368.07,783.44 L368.33,783.90 L369.16,783.42 L370.07,782.54 L370.57,782.26 L371.14,783.68 L371.48,783.05 L372.51,783.12 L372.86,782.24 L373.17,782.35 L373.99,781.92 L374.53,781.69 L375.37,782.65 L375.69,781.68 L376.47,781.98 L377.32,781.68 L377.54,782.64 L378.05,781.89 L378.77,782.28 L379.51,782.06 L379.88,781.77 L380.75,781.25 L381.45,781.88 L381.66,780.69 L382.42,780.41 L382.84,780.41 L383.53,781.10 L384.28,779.77 L384.81,780.33 L385.44,779.58 L385.87,779.11 L387.03,780.44 L387.09,780.22 L388.23,779.76 L388.31,779.46 L389.11,778.71 L389.78,778.19 L390.61,779.31 L391.04,779.74 L391.66,778.22 L392.02,777.84 L392.49,778.96 L393.58,777.85 L393.79,778.38 L394.79,778.81 L394.99,778.37 L395.99,778.14 L396.30,776.87 L397.20,777.02 L397.53,777.36 L398.13,777.80 L398.66,776.10 L399.46,777.15 L400.22,777.18 L400.87,777.54 L401.23,774.66 L401.63,776.00 L402.49,775.44 L403.16,775.49 L403.62,776.98 L404.01,775.00 L404.82,773.68 L405.60,774.68 L406.27,776.26 L406.85,775.28 L407.15,775.63 L407.89,775.03 L408.39,774.94 L409.19,775.60 L409.94,774.15 L410.18,774.59 L410.90,774.19 L411.25,773.45 L411.89,774.00 L412.84,774.69 L413.35,774.61 L413.97,773.69 L414.44,772.37 L414.93,773.26 L415.27,772.97 L416.23,775.05 L416.61,772.01 L416.99,772.98 L417.37,771.38 L418.32,771.69 L418.53,771.91 L419.27,771.54 L419.86,771.23 L420.52,770.75 L420.81,770.11 L421.84,770.64 L421.94,771.06 L422.59,769.32 L423.32,769.43 L423.86,769.82 L424.27,769.65 L424.77,769.33 L425.64,768.25 L426.11,768.03 L426.71,769.40 L427.36,768.89 L428.07,767.48 L428.79,768.48 L428.84,768.49 L429.60,766.96 L430.52,767.53 L430.99,766.47 L431.58,766.10 L431.84,766.52 L432.28,766.75 L432.99,765.96 L433.87,766.00 L434.56,763.94 L435.13,765.85 L435.74,768.31 L435.87,765.79 L436.56,765.62 L437.35,765.53 L437.59,764.42 L438.55,765.36 L439.12,763.34 L439.63,763.24 L440.18,764.44 L440.50,764.47 L441.42,762.92 L441.72,763.09 L442.67,763.14 L442.79,761.80 L443.36,763.13 L443.96,762.42 L444.59,762.46 L445.21,761.15 L446.07,761.71 L446.52,762.03 L447.24,760.22 L447.44,760.27 L448.10,761.49 L448.84,759.59 L449.03,760.93 L449.89,761.88 L450.34,759.17 L451.12,759.41 L451.70,759.63 L451.79,758.84 L452.43,759.74 L453.22,757.82 L453.53,758.23 L454.27,758.44 L454.79,757.77 L455.12,758.00 L455.88,756.66 L456.52,758.37 L456.84,756.46 L457.78,756.49 L458.10,756.72 L458.66,756.64 L459.40,757.21 L460.26,755.15 L460.58,756.42 L461.35,756.22 L461.79,755.73 L462.21,754.82 L463.06,755.80 L463.73,755.21 L463.93,755.16 L464.77,754.45 L465.29,752.02 L465.82,753.83 L466.11,753.48 L466.85,754.58 L467.53,753.13 L467.97,752.66 L468.62,752.25 L468.99,753.52 L469.84,752.46 L470.50,751.97 L470.84,751.29 L471.50,751.57 L472.34,751.84 L473.05,751.22 L473.62,751.49 L473.70,750.48 L474.58,749.57 L475.03,751.26 L475.66,749.24 L475.99,750.20 L477.03,749.51 L477.19,748.73 L477.68,748.95 L478.55,748.58 L478.91,748.27 L479.58,749.33 L480.15,747.73 L480.75,748.99 L481.21,746.95 L481.88,748.27 L482.15,746.52 L482.60,747.05 L483.56,746.99 L484.13,745.86 L484.32,746.66 L485.06,745.70 L485.62,745.30 L485.79,745.18 L486.33,745.33 L487.05,746.59 L487.75,744.05 L488.22,743.29 L489.04,744.13 L489.62,742.84 L489.94,743.90 L490.32,742.37 L490.76,742.20 L491.67,741.82 L492.24,742.22 L492.62,742.28 L493.22,742.24 L493.83,741.41 L494.49,742.74 L495.06,741.92 L495.68,740.84 L496.26,742.00 L496.65,740.43 L497.28,741.57 L497.62,739.54 L498.41,740.65 L499.17,739.89 L499.89,741.07 L500.33,738.99 L500.48,738.91 L501.08,739.47 L501.96,738.65 L502.77,738.84 L502.88,738.29 L503.82,739.60 L504.05,737.64 L505.00,737.89 L505.71,738.23 L506.09,737.74 L506.77,737.80 L507.06,738.51 L507.52,737.99 L508.07,737.64 L508.86,737.90 L509.24,737.13 L509.99,737.54 L510.85,736.65 L510.96,735.60 L511.53,735.67 L512.05,732.44 L512.91,735.49 L513.18,735.89 L513.67,734.74 L514.18,735.03 L515.15,733.53 L515.62,734.35 L515.88,733.06 L516.55,733.88 L516.90,733.17 L517.70,732.41 L518.23,732.97 L518.55,732.67 L519.19,732.16 L520.03,730.66 L520.58,731.99 L520.78,729.75 L521.21,731.35 L521.69,730.92 L522.32,728.36 L522.83,728.84 L523.72,728.38 L524.06,729.74 L524.70,728.60" fill="none" stroke="#111" stroke-width="1.8"/>
<path d="M325.74,804.37 L326.11,804.03 L326.54,802.51 L327.47,803.97 L327.85,802.62 L328.33,802.38 L328.95,802.24 L329.77,799.88 L330.19,802.44 L330.66,801.61 L331.80,801.47 L332.15,802.68 L332.96,801.95 L333.33,800.78 L333.66,800.31 L334.24,801.53 L335.23,800.22 L335.86,799.82 L336.12,801.17 L337.22,802.59 L337.60,799.41 L338.17,799.28 L338.83,801.79 L339.19,800.28 L339.95,800.22 L340.74,798.57 L341.05,798.47 L341.59,799.67 L342.17,797.06 L342.72,799.34 L343.62,798.03 L344.06,799.38 L344.95,797.43 L345.56,797.50 L345.99,797.39 L346.77,798.44 L347.02,798.60 L347.91,798.02 L348.14,796.49 L349.24,796.44 L349.63,796.91 L349.96,797.34 L350.56,797.75 L351.16,796.63 L351.98,797.08 L352.92,796.83 L353.42,796.53 L354.01,796.42 L354.30,798.97 L354.93,795.30 L355.64,796.65 L356.37,795.29 L356.80,796.12 L357.73,795.75 L358.22,795.79 L358.77,795.75 L359.02,795.94 L360.07,795.75 L360.70,794.61 L361.15,795.14 L361.93,795.05 L362.52,795.40 L362.54,794.67 L363.30,794.31 L364.09,793.47 L364.41,794.40 L364.87,793.56 L365.77,793.27 L366.39,792.51 L366.59,791.98 L367.32,793.00 L368.04,791.77 L368.32,791.14 L368.72,791.35 L369.23,790.77 L370.02,789.77 L370.50,791.40 L370.96,790.92 L371.65,789.94 L372.11,789.01 L372.90,789.05 L373.61,788.80 L373.83,788.04 L374.29,788.16 L375.23,788.94 L375.88,787.52 L376.04,788.40 L376.88,787.62 L377.47,788.09 L377.74,785.93 L378.57,785.87 L378.76,786.54 L379.56,786.64 L380.12,786.89 L380.71,786.17 L381.22,784.69 L381.82,784.68 L382.17,784.95 L382.67,784.21 L383.21,784.04 L384.01,784.55 L384.69,784.55 L384.72,783.99 L385.53,783.82 L385.80,783.94 L386.87,782.18 L387.12,782.31 L387.75,781.75 L388.36,782.11 L389.12,781.91 L389.10,782.57 L389.79,780.77 L390.70,781.10 L391.27,780.13 L391.55,781.44 L392.10,779.65 L392.71,778.91 L393.10,779.37 L393.35,780.15 L394.21,778.93 L394.93,778.36 L395.42,777.98 L395.90,778.02 L395.95,777.78 L396.99,776.81 L397.46,776.23 L397.68,776.84 L398.37,777.21 L398.77,776.93 L399.34,775.30 L399.75,774.71 L400.33,774.71 L400.62,775.21 L400.95,774.30 L401.38,773.17 L402.10,773.07 L402.15,773.57 L402.92,772.31 L403.24,771.22 L404.05,770.65 L404.20,771.30 L404.94,771.60 L405.31,769.72 L405.81,770.67 L406.33,770.52 L407.11,768.81 L407.39,768.26 L407.95,769.30 L408.33,768.77 L408.88,769.19 L409.71,768.65 L409.75,767.77 L410.70,767.90 L411.15,767.76 L411.34,765.92 L412.19,766.72 L412.34,765.71 L413.29,766.15 L413.80,765.03 L414.11,764.57 L414.84,764.99 L414.93,764.70 L415.60,764.75 L416.04,762.99 L416.79,764.08 L416.94,761.91 L417.73,762.02 L418.13,761.63 L418.80,762.42 L419.26,762.21 L419.42,760.59 L420.33,760.28 L420.39,760.02 L420.82,761.04 L421.85,759.51 L421.95,759.69 L422.79,758.82 L423.29,759.12 L423.70,756.22 L424.03,758.22 L424.75,757.27 L424.92,757.44 L425.68,756.03 L425.60,756.49 L426.11,756.94 L426.61,755.52 L427.38,752.64 L427.67,755.71 L428.17,754.53 L428.28,753.99 L428.98,753.45 L429.32,753.94 L430.17,752.70 L430.18,752.33 L430.97,751.36 L431.51,751.52 L431.80,750.39 L431.92,751.14 L432.42,749.85 L433.28,749.22 L433.20,748.47 L433.83,749.74 L434.28,748.74 L435.01,747.09 L435.15,747.62 L435.77,746.64 L436.20,746.86 L436.52,747.22 L437.24,746.10 L437.27,745.67 L437.66,744.34 L438.50,743.74 L439.03,743.20 L439.40,744.32 L439.82,743.87 L439.94,743.41 L440.77,742.06 L441.18,741.09 L441.60,741.85 L441.61,740.91 L442.32,741.47 L442.92,740.90 L443.33,740.12 L443.85,739.74 L444.14,738.92 L444.48,739.30 L445.30,738.26 L445.37,738.45 L446.29,737.31 L446.81,736.96 L447.29,736.80 L447.28,736.11 L447.89,736.83 L448.76,736.34 L448.96,734.74 L449.34,734.55 L449.97,735.32 L450.17,731.89 L451.01,733.69 L451.45,733.71 L451.55,733.65 L452.19,731.74 L452.46,732.52 L453.19,730.72 L453.82,732.22 L453.86,731.43 L454.40,730.62 L455.29,730.79 L455.42,729.80 L455.96,729.82 L456.70,727.90 L456.74,728.20 L457.62,727.29 L458.09,728.58 L458.29,727.44 L459.05,727.27 L459.47,726.98 L459.69,726.45 L460.28,724.90 L460.58,725.84 L461.21,725.11 L461.32,724.99 L461.82,723.02 L462.18,723.10 L462.72,723.49 L463.26,721.46 L463.49,722.50 L463.70,722.04 L464.38,720.60 L464.96,720.07 L464.84,720.16 L465.50,720.66 L466.26,719.89 L466.13,719.00 L466.87,718.27 L466.97,717.94 L467.66,718.47 L468.25,717.87 L468.28,715.95 L468.96,716.45 L469.26,715.79 L470.06,715.09 L470.43,714.03 L470.35,714.74 L470.80,714.12 L471.54,714.13 L471.92,713.52 L472.42,712.89 L472.72,712.56 L473.20,711.19 L473.40,711.34 L474.21,710.30 L474.56,710.91 L474.96,710.96 L475.35,707.15 L475.71,709.46 L475.92,705.85 L476.87,709.32 L476.87,707.53 L477.47,707.20 L478.06,707.39 L478.43,706.25 L478.75,705.58 L479.59,706.66 L479.78,703.49 L480.71,706.23 L480.94,704.43 L481.52,705.14 L481.58,703.31 L482.04,704.35 L482.88,702.79 L483.50,703.75 L483.46,703.01 L484.07,701.91 L484.45,702.61 L485.35,700.72 L485.54,700.61 L485.88,701.81 L486.65,700.49 L487.10,700.68 L487.65,699.45 L488.12,698.39 L488.39,698.61 L488.83,698.21 L489.43,697.06 L489.84,697.10 L490.02,696.35 L490.35,695.82 L491.19,696.17 L491.32,695.01 L491.63,695.36 L492.12,694.12 L492.82,694.06 L493.41,695.00 L493.61,694.26 L494.11,693.56 L494.30,695.66 L495.13,692.83 L495.30,691.20 L496.04,691.75 L496.28,690.42 L496.91,690.22 L497.02,689.90 L497.79,688.97 L498.17,689.63 L498.46,689.22 L498.97,685.69 L499.00,689.28 L499.63,686.76 L500.27,687.24 L500.31,685.88 L501.03,686.74 L501.46,685.84 L501.97,686.18 L502.08,685.67 L502.33,684.18 L502.97,683.26 L503.51,684.19 L503.80,682.87 L503.85,681.89 L504.26,682.56 L504.46,680.94 L504.98,680.71 L505.51,681.25 L505.55,679.26 L506.34,679.93 L506.43,678.65 L506.64,678.61 L507.48,677.28 L507.50,676.87 L508.07,676.34 L508.27,676.27 L509.02,677.13 L509.04,675.86 L509.31,675.04 L510.09,674.62 L510.19,674.79 L511.06,674.86 L511.09,674.14 L511.99,672.26 L512.27,673.55 L512.79,673.06 L512.92,672.72 L513.38,670.53 L513.73,670.85 L514.34,670.24 L514.85,670.23 L515.08,669.94 L515.75,669.22 L516.20,669.84 L516.90,668.42 L516.84,667.53 L517.41,667.62 L517.84,666.99 L518.18,666.91 L518.88,665.90 L519.40,667.05 L520.04,665.38 L519.97,665.07 L520.41,664.83 L521.13,664.00 L521.33,663.90 L522.00,662.69 L522.64,662.37 L523.10,662.94 L523.12,661.82 L523.98,660.98 L524.38,661.37 L524.70,661.00" fill="none" stroke="#d21ad6" stroke-width="2.0"/>
<text x="656.01" y="595.30" font-size="21.5" font-weight="bold" fill="#e2962e" >S768</text>
<text x="670.10" y="635.70" font-size="16" font-weight="normal" fill="#000" >nA</text>
<text x="546.64" y="786.10" font-size="16" font-weight="normal" fill="#000" >mV</text>
<line x1="681.50" y1="648.30" x2="681.50" y2="823.50" stroke="#a6a6a6" stroke-width="1"/>
<line x1="677.20" y1="648.50" x2="685.80" y2="648.50" stroke="#8a8a8a" stroke-width="1"/>
<text x="648.75" y="653.50" font-size="14.5" font-weight="bold" fill="#000" >1.5</text>
<line x1="677.20" y1="692.50" x2="685.80" y2="692.50" stroke="#8a8a8a" stroke-width="1"/>
<text x="660.84" y="697.30" font-size="14.5" font-weight="bold" fill="#000" >1</text>
<line x1="677.20" y1="736.50" x2="685.80" y2="736.50" stroke="#8a8a8a" stroke-width="1"/>
<text x="648.75" y="741.10" font-size="14.5" font-weight="bold" fill="#000" >0.5</text>
<line x1="677.20" y1="780.50" x2="685.80" y2="780.50" stroke="#8a8a8a" stroke-width="1"/>
<text x="661.03" y="784.90" font-size="14.5" font-weight="bold" fill="#000" >0</text>
<line x1="677.20" y1="823.50" x2="685.80" y2="823.50" stroke="#8a8a8a" stroke-width="1"/>
<text x="643.92" y="828.70" font-size="14.5" font-weight="bold" fill="#000" >-0.5</text>
<line x1="581.50" y1="780.50" x2="781.50" y2="780.50" stroke="#8a8a8a" stroke-width="1"/>
<line x1="581.50" y1="776.50" x2="581.50" y2="783.50" stroke="#8a8a8a" stroke-width="1"/>
<text x="569.10" y="799.50" font-size="12.4" font-weight="bold" fill="#000" >-100</text>
<line x1="631.50" y1="776.50" x2="631.50" y2="783.50" stroke="#8a8a8a" stroke-width="1"/>
<text x="622.55" y="799.50" font-size="12.4" font-weight="bold" fill="#000" >-50</text>
<line x1="681.50" y1="776.50" x2="681.50" y2="783.50" stroke="#8a8a8a" stroke-width="1"/>
<text x="678.06" y="799.50" font-size="12.4" font-weight="bold" fill="#000" >0</text>
<line x1="731.50" y1="776.50" x2="731.50" y2="783.50" stroke="#8a8a8a" stroke-width="1"/>
<text x="724.67" y="799.50" font-size="12.4" font-weight="bold" fill="#000" >50</text>
<line x1="781.50" y1="776.50" x2="781.50" y2="783.50" stroke="#8a8a8a" stroke-width="1"/>
<text x="771.02" y="799.50" font-size="12.4" font-weight="bold" fill="#000" >100</text>
<path d="M580.84,781.48 L581.05,780.64 L582.11,780.22 L582.72,780.91 L582.86,781.27 L583.67,779.28 L584.28,781.16 L584.83,780.26 L585.35,781.29 L586.15,779.54 L586.52,779.94 L587.58,780.81 L587.54,781.38 L588.07,780.54 L588.98,780.87 L589.58,779.24 L590.26,781.13 L591.07,779.93 L591.23,780.94 L592.28,779.57 L592.95,781.58 L593.20,779.99 L594.02,781.42 L594.22,779.78 L594.93,780.90 L595.42,780.42 L596.26,780.74 L596.59,781.49 L597.86,780.46 L598.30,779.48 L598.99,780.43 L599.48,781.26 L599.77,781.40 L600.25,782.17 L601.08,781.34 L602.00,781.48 L602.30,781.42 L602.94,779.37 L603.59,781.09 L604.04,780.57 L604.51,779.72 L605.24,780.33 L605.88,779.24 L606.12,779.88 L607.28,780.95 L607.50,779.66 L608.33,779.46 L608.99,781.35 L609.28,780.52 L610.29,780.95 L610.89,780.85 L611.15,781.18 L612.26,779.14 L612.88,780.15 L612.81,779.18 L613.97,780.76 L614.06,780.20 L615.05,781.59 L615.41,780.99 L615.95,779.52 L616.48,780.07 L617.44,779.79 L617.69,779.57 L618.23,779.50 L619.01,780.31 L619.51,780.25 L620.31,781.53 L620.95,781.46 L621.54,779.51 L622.24,781.25 L622.51,779.19 L623.53,781.51 L623.90,779.92 L624.52,779.92 L625.33,780.02 L625.51,779.33 L626.44,779.02 L627.26,780.89 L627.48,780.64 L628.52,780.04 L628.74,779.78 L629.44,780.72 L630.18,781.47 L630.32,779.94 L631.47,781.04 L631.87,780.73 L632.28,781.42 L633.04,780.00 L633.35,779.24 L634.51,781.02 L634.43,779.77 L635.38,780.20 L635.89,781.23 L636.48,780.28 L637.53,780.55 L637.78,779.74 L638.31,778.72 L639.22,779.54 L639.50,779.86 L640.09,781.21 L640.83,779.55 L641.27,780.96 L641.73,780.61 L642.23,781.34 L642.86,780.89 L643.52,779.38 L644.05,779.46 L645.18,783.06 L645.92,781.22 L646.24,781.14 L646.48,781.14 L647.35,779.23 L648.19,780.95 L648.51,778.95 L649.49,780.66 L649.88,781.23 L650.04,778.83 L650.71,778.73 L651.76,780.30 L651.90,779.07 L652.55,780.23 L653.53,781.15 L653.89,781.17 L654.55,779.63 L655.01,779.21 L656.17,781.18 L656.56,781.56 L656.75,778.97 L657.48,780.48 L657.86,779.94 L658.94,778.64 L659.35,780.60 L660.06,779.70 L660.90,780.08 L661.07,779.54 L662.15,780.74 L662.72,779.95 L662.72,778.94 L663.51,780.27 L663.81,780.55 L665.02,779.79 L665.01,780.52 L665.93,780.18 L666.65,780.32 L667.13,780.91 L668.16,780.82 L668.49,779.22 L668.90,779.09 L669.91,780.44 L670.42,780.50 L671.18,780.15 L671.26,780.32 L671.81,779.93 L672.33,780.56 L673.19,779.04 L674.13,778.53 L674.74,780.27 L674.73,780.27 L675.66,780.64 L676.27,779.39 L677.14,778.49 L677.62,778.52 L677.83,778.54 L678.89,779.39 L679.38,778.90 L679.98,779.91 L680.09,779.49 L681.17,778.76 L681.72,775.63 L682.10,780.55 L683.15,780.73 L683.35,782.71 L684.25,780.07 L684.58,780.32 L685.14,780.53 L685.80,778.35 L686.61,778.39 L687.16,778.14 L688.00,779.38 L688.41,778.30 L688.93,778.91 L689.23,780.03 L689.67,779.14 L690.31,780.09 L691.54,777.94 L691.81,779.05 L692.61,779.71 L692.92,780.22 L693.40,778.13 L694.49,778.06 L694.60,779.03 L695.32,778.14 L696.39,778.92 L696.88,778.32 L697.58,778.22 L698.17,779.22 L698.83,779.61 L699.16,778.97 L699.94,778.72 L699.95,779.92 L701.11,779.30 L701.66,778.11 L702.04,777.96 L703.03,779.87 L703.01,779.22 L703.92,778.48 L704.22,777.76 L705.06,778.67 L705.50,778.32 L706.33,779.32 L706.96,777.74 L707.79,778.26 L708.45,777.45 L708.41,778.78 L709.66,778.24 L709.93,778.04 L710.13,777.73 L710.81,777.92 L711.81,778.62 L712.66,778.92 L712.80,781.83 L713.61,778.51 L714.40,777.22 L714.61,778.63 L715.16,779.56 L715.72,779.55 L716.18,777.02 L717.16,777.51 L717.73,777.26 L718.59,778.67 L719.07,779.32 L719.91,778.66 L720.30,776.88 L720.38,775.00 L721.70,777.65 L721.99,776.84 L722.48,779.14 L723.21,778.91 L723.37,777.28 L724.10,778.89 L724.64,779.13 L725.37,778.98 L726.17,777.51 L727.12,777.70 L727.51,776.80 L728.22,779.16 L728.26,778.53 L728.98,776.95 L729.66,778.27 L730.72,779.11 L731.35,778.13 L731.69,776.90 L732.35,777.90 L732.67,778.79 L733.19,776.79 L733.71,776.79 L734.65,778.47 L734.92,777.67 L735.84,777.80 L736.32,780.04 L736.61,776.45 L737.53,776.90 L738.39,776.89 L739.05,776.87 L739.08,777.46 L739.91,777.07 L740.81,776.76 L741.33,778.34 L741.76,777.46 L742.73,777.71 L742.75,776.31 L743.27,776.98 L743.88,777.79 L744.74,776.89 L745.41,778.50 L745.80,776.46 L746.45,776.88 L747.52,777.86 L747.74,776.44 L748.05,776.32 L749.27,777.67 L749.33,777.59 L749.86,777.27 L750.67,776.21 L751.59,777.79 L752.01,776.35 L752.73,777.02 L753.33,776.12 L754.11,775.88 L754.18,776.89 L754.76,776.07 L755.75,778.41 L756.07,776.50 L756.93,776.37 L757.32,777.57 L757.95,776.17 L758.26,777.16 L759.58,778.13 L759.49,777.03 L760.39,776.21 L761.13,776.98 L761.84,776.44 L762.54,777.78 L762.78,776.02 L763.39,775.97 L764.14,777.43 L764.66,778.14 L764.85,777.45 L766.03,775.87 L766.26,775.70 L767.06,777.43 L767.48,777.34 L768.10,777.37 L768.63,778.05 L769.35,775.50 L769.68,777.36 L770.88,777.12 L770.93,777.71 L771.97,775.73 L772.31,777.16 L772.61,775.51 L773.49,777.66 L774.59,776.20 L775.12,777.40 L775.68,776.87 L776.37,777.01 L776.95,776.79 L776.96,776.65 L777.79,776.16 L778.30,776.60 L779.07,775.84 L779.43,776.55 L780.20,776.32 L780.93,775.70 L781.40,776.50" fill="none" stroke="#8c8c8c" stroke-width="1.5"/>
<path d="M581.77,804.46 L582.71,805.51 L582.82,804.86 L583.98,803.88 L584.12,803.85 L585.14,803.72 L585.32,802.99 L586.41,803.33 L586.56,804.61 L587.28,805.89 L588.18,802.63 L588.71,803.22 L589.15,804.67 L589.58,802.69 L590.24,802.62 L591.07,802.79 L591.39,802.38 L592.25,803.09 L592.94,802.65 L593.44,802.18 L594.16,801.46 L594.81,802.70 L595.41,801.02 L595.50,800.87 L596.72,802.35 L597.36,801.44 L597.40,801.79 L598.53,801.19 L598.56,800.78 L599.49,800.51 L599.91,801.93 L600.98,801.04 L601.44,802.10 L601.73,800.88 L602.26,800.62 L603.12,801.52 L603.83,800.40 L604.15,799.96 L604.77,799.91 L605.53,801.53 L606.41,800.10 L606.63,801.11 L607.80,798.56 L608.24,801.23 L608.76,800.33 L609.30,800.36 L610.04,798.75 L610.34,799.32 L610.90,798.25 L611.79,798.61 L611.89,798.59 L612.80,798.12 L613.25,798.27 L614.04,798.10 L614.49,797.14 L615.25,796.66 L615.47,797.42 L616.03,797.17 L616.48,795.93 L617.11,797.20 L617.56,795.15 L618.09,796.22 L619.03,796.36 L619.75,795.34 L620.20,794.36 L620.78,794.78 L621.14,795.44 L621.90,794.20 L622.45,793.35 L622.49,794.01 L623.45,794.45 L623.95,793.74 L624.19,792.81 L625.33,792.90 L625.64,792.37 L626.44,792.67 L627.00,792.38 L627.35,791.62 L627.51,790.95 L628.32,791.71 L628.75,792.05 L629.75,791.45 L629.94,790.98 L630.34,790.47 L631.11,790.43 L631.89,790.09 L632.10,789.86 L632.83,787.19 L633.38,790.06 L633.94,788.66 L634.48,789.75 L635.23,788.80 L635.85,784.86 L636.32,788.02 L637.22,788.63 L637.70,786.80 L638.11,783.79 L638.85,786.07 L639.06,787.35 L639.71,787.08 L640.66,786.21 L640.73,786.53 L641.39,786.63 L641.89,786.05 L642.69,785.32 L643.51,786.27 L643.75,785.44 L644.20,785.17 L644.87,785.37 L645.12,784.19 L645.63,783.14 L646.05,782.10 L646.56,782.06 L647.02,780.92 L647.14,781.86 L647.57,781.11 L648.06,780.20 L648.89,780.89 L649.11,779.19 L649.64,780.14 L650.26,777.90 L650.49,777.50 L650.65,778.68 L651.40,777.39 L652.09,777.10 L652.07,776.77 L653.08,776.95 L653.54,775.41 L653.41,774.84 L654.43,776.09 L654.43,774.64 L655.03,774.61 L655.72,773.04 L656.29,773.33 L656.28,773.36 L656.89,772.59 L657.49,771.48 L657.80,771.36 L658.01,771.76 L658.55,772.11 L659.58,771.32 L660.05,771.07 L660.77,770.61 L660.84,770.18 L661.89,770.08 L662.08,769.17 L662.47,770.74 L663.48,767.82 L663.74,769.05 L664.20,768.50 L665.08,767.72 L665.52,768.50 L665.77,767.70 L666.79,768.97 L667.02,767.26 L667.69,767.57 L668.26,767.21 L668.89,767.96 L669.52,766.09 L669.64,766.96 L670.51,766.51 L670.69,765.05 L671.49,764.63 L671.76,765.45 L672.35,763.58 L673.08,764.90 L673.06,763.72 L673.56,762.43 L674.59,763.63 L674.84,761.81 L675.15,761.56 L675.53,761.79 L676.21,761.90 L676.76,762.03 L677.56,759.79 L677.49,761.13 L678.19,759.46 L678.98,758.60 L679.32,759.98 L679.76,758.75 L679.95,758.07 L680.12,757.65 L680.70,758.49 L681.33,756.85 L681.98,756.62 L682.13,755.32 L682.28,756.11 L682.97,755.18 L683.41,753.85 L683.99,754.40 L684.44,754.80 L684.57,753.83 L685.00,753.32 L685.52,751.52 L685.74,753.00 L686.01,751.57 L686.20,751.43 L686.88,749.67 L687.04,749.58 L687.73,749.45 L688.13,749.84 L688.33,748.53 L688.83,748.49 L688.98,746.93 L689.43,744.42 L689.90,748.52 L689.84,746.60 L690.10,746.20 L690.82,745.83 L690.87,745.66 L691.17,743.74 L691.90,744.52 L692.26,743.76 L692.76,743.38 L692.88,741.51 L693.50,742.65 L693.53,741.47 L694.54,742.25 L694.55,740.79 L695.51,741.58 L695.63,739.93 L696.29,740.52 L696.47,738.69 L697.48,738.07 L697.98,739.22 L698.42,738.09 L698.46,737.86 L699.53,737.87 L699.44,738.26 L700.47,736.99 L700.90,736.71 L701.45,735.55 L701.98,735.28 L702.09,736.58 L702.42,736.25 L703.05,735.87 L703.49,734.51 L704.21,734.98 L704.95,734.91 L704.83,732.73 L705.65,732.75 L705.72,732.93 L706.36,732.78 L706.90,730.97 L707.34,730.95 L707.48,731.22 L707.83,731.17 L708.39,731.76 L708.70,729.09 L709.62,729.96 L710.02,729.27 L710.37,728.04 L710.51,727.51 L711.00,725.11 L711.94,725.76 L712.36,726.19 L712.28,725.87 L712.67,726.51 L713.49,724.25 L713.78,724.00 L714.34,724.07 L714.62,723.68 L715.07,724.11 L715.85,721.95 L715.91,721.96 L716.08,721.81 L716.67,720.78 L717.32,721.64 L717.31,720.78 L717.54,719.20 L717.89,719.43 L718.49,719.07 L718.84,718.01 L719.41,718.44 L719.65,716.97 L719.69,718.01 L720.60,717.71 L720.64,716.53 L721.15,716.23 L721.21,715.02 L721.62,714.59 L721.97,713.92 L722.81,713.36 L723.20,713.96 L723.38,713.12 L723.77,711.68 L723.90,711.92 L724.11,711.90 L724.99,710.47 L725.19,710.48 L725.78,710.83 L725.85,708.48 L726.59,709.56 L726.76,708.98 L726.73,708.40 L727.78,707.27 L727.72,707.00 L728.47,707.29 L728.79,706.32 L729.21,705.46 L729.61,704.80 L730.36,705.82 L730.94,705.19 L731.15,704.72 L731.39,704.30 L732.02,704.69 L732.36,702.95 L733.26,703.30 L733.08,702.39 L733.85,702.34 L734.50,700.60 L734.62,700.24 L735.02,700.75 L735.53,701.23 L736.06,699.01 L736.73,698.81 L736.84,698.23 L737.26,698.78 L738.11,698.00 L738.16,697.51 L738.76,696.62 L738.94,696.61 L739.86,696.34 L740.18,695.82 L740.76,695.14 L740.82,694.45 L741.42,695.73 L741.92,694.87 L741.82,696.65 L742.68,693.98 L742.59,692.52 L743.20,692.00 L743.52,692.73 L744.14,691.34 L744.59,690.75 L744.59,691.12 L745.28,690.54 L745.64,689.80 L746.18,688.73 L746.35,689.19 L746.99,688.40 L747.26,685.85 L748.04,686.63 L748.41,687.27 L748.75,686.85 L749.11,686.49 L749.49,685.75 L749.76,685.63 L750.19,684.14 L750.77,684.19 L751.03,683.36 L751.29,683.65 L751.29,683.11 L751.51,680.23 L752.28,681.93 L752.63,680.67 L752.73,679.92 L753.33,681.17 L753.32,678.53 L753.57,679.97 L753.83,677.76 L754.30,677.55 L754.60,677.70 L755.32,676.55 L755.51,676.27 L755.76,675.84 L756.25,678.33 L756.43,675.83 L756.54,677.30 L757.28,674.36 L757.11,672.74 L757.80,673.47 L757.79,671.95 L758.42,669.90 L758.45,671.29 L759.22,669.94 L759.16,670.52 L759.47,669.72 L759.85,668.27 L760.50,668.66 L760.46,668.18 L761.09,666.61 L761.15,667.37 L761.54,666.05 L762.19,667.31 L762.52,665.52 L763.31,665.13 L763.51,664.80 L763.97,665.06 L764.43,665.06 L765.16,665.11 L765.58,663.00 L766.27,663.03 L766.66,663.22 L766.85,662.58 L767.37,662.25 L768.13,662.26 L768.89,662.88 L769.22,661.57 L769.39,660.91 L769.99,661.02 L770.51,659.57 L771.10,660.77 L771.42,662.35 L771.79,659.43 L772.59,658.44 L773.00,659.67 L773.52,658.08 L774.09,657.09 L774.36,656.87 L774.35,656.08 L775.01,656.60 L775.28,654.89 L775.50,655.44 L776.03,658.08 L776.76,654.34 L776.80,653.60 L777.55,654.21 L777.53,655.11 L777.94,652.20 L778.59,651.39 L779.08,650.65 L779.43,651.20 L779.95,649.67 L779.87,650.26 L780.50,650.71 L781.01,648.73 L781.30,648.80" fill="none" stroke="#111" stroke-width="1.5"/>
<path d="M582.22,806.62 L582.38,806.07 L583.34,804.54 L583.92,804.10 L584.57,805.95 L584.89,806.10 L585.39,804.11 L586.13,803.44 L586.53,804.26 L587.16,803.93 L587.97,803.16 L588.57,804.50 L589.25,802.85 L589.80,804.23 L590.28,803.75 L591.26,804.04 L591.46,802.12 L592.03,801.95 L592.45,800.28 L593.42,802.88 L593.96,802.88 L594.47,802.58 L595.02,801.39 L596.13,802.78 L596.62,803.00 L597.00,801.49 L597.42,802.60 L598.49,803.09 L598.77,802.77 L599.48,802.64 L599.94,802.21 L600.79,802.65 L601.05,803.00 L602.00,802.67 L602.26,802.49 L603.44,801.36 L603.75,802.53 L604.29,800.92 L605.18,802.39 L605.70,800.68 L606.24,799.33 L607.03,802.02 L607.63,802.42 L607.71,801.85 L608.50,799.72 L609.04,799.92 L609.50,800.18 L610.67,800.39 L610.74,799.16 L611.22,799.77 L611.81,799.17 L613.02,800.13 L613.45,798.78 L613.57,798.32 L614.36,798.45 L615.10,797.16 L615.59,797.87 L615.82,797.02 L616.91,798.25 L616.96,800.95 L617.75,798.05 L618.28,795.79 L619.18,793.20 L619.78,795.67 L619.74,796.17 L620.87,794.87 L621.05,795.67 L621.92,794.56 L622.21,795.71 L623.06,794.71 L623.36,794.55 L624.12,793.36 L624.27,794.77 L624.90,792.70 L625.30,792.71 L626.11,794.36 L626.96,792.91 L627.18,792.94 L627.82,791.75 L628.72,793.31 L628.67,792.62 L629.40,791.34 L629.87,791.87 L630.43,792.30 L631.01,791.98 L632.11,791.86 L632.54,791.35 L632.62,790.67 L633.16,790.53 L634.40,788.64 L634.98,790.67 L635.46,789.88 L635.68,789.85 L636.01,789.12 L637.02,788.43 L637.56,787.48 L638.32,788.58 L638.62,788.00 L639.42,788.47 L639.78,786.86 L640.66,785.98 L641.15,785.87 L641.48,787.35 L642.12,787.29 L642.88,786.15 L643.49,784.99 L644.10,785.18 L644.32,786.41 L644.85,785.33 L645.59,784.30 L645.49,784.52 L646.20,784.04 L646.57,783.58 L647.32,782.80 L647.17,782.23 L647.94,782.01 L647.92,780.43 L648.52,779.95 L649.50,779.99 L649.83,779.41 L650.12,779.30 L650.70,778.19 L650.78,777.34 L651.17,779.29 L651.63,777.63 L652.62,776.71 L652.44,776.58 L653.15,774.30 L654.00,775.91 L653.86,774.85 L654.64,775.38 L655.33,774.03 L655.67,773.51 L655.66,773.34 L656.73,773.93 L657.00,773.28 L657.19,772.71 L657.94,772.30 L658.27,773.50 L658.82,773.17 L659.39,772.67 L659.76,770.93 L660.38,772.31 L661.19,771.29 L661.84,770.99 L662.29,771.18 L662.77,770.93 L662.99,771.32 L664.02,770.24 L664.65,768.85 L664.72,769.52 L665.42,769.95 L666.06,767.78 L666.76,769.56 L666.92,767.89 L667.61,767.37 L668.29,767.52 L668.91,768.13 L669.51,766.49 L669.87,767.51 L670.63,766.72 L670.62,767.45 L671.34,767.19 L671.51,764.89 L672.39,764.53 L672.93,765.65 L673.37,761.45 L673.63,764.34 L674.59,763.31 L675.11,762.50 L675.29,762.13 L675.87,763.81 L676.63,763.46 L676.65,758.94 L677.24,760.65 L677.74,760.61 L678.20,757.54 L678.74,759.52 L679.44,759.05 L679.76,758.59 L680.30,756.90 L680.91,758.56 L681.35,757.43 L681.25,757.44 L681.92,757.73 L682.27,757.21 L683.20,755.34 L683.63,754.79 L683.91,755.69 L684.57,755.68 L684.42,754.32 L685.38,753.96 L685.77,753.37 L685.97,753.35 L686.22,753.90 L686.68,751.42 L687.04,752.73 L687.49,752.29 L687.32,750.31 L687.80,749.50 L688.31,750.81 L688.70,749.27 L689.29,747.84 L689.69,748.18 L689.69,749.28 L690.56,747.27 L690.76,747.45 L691.22,746.94 L691.00,745.98 L691.70,745.87 L691.82,745.82 L692.29,744.52 L692.49,744.98 L693.27,744.87 L693.82,742.89 L694.24,743.40 L694.84,743.10 L695.09,742.16 L695.66,742.83 L696.30,741.63 L697.02,742.30 L697.21,742.33 L698.27,740.23 L698.38,739.69 L699.06,740.46 L699.55,738.84 L700.12,740.43 L700.38,739.76 L701.25,738.13 L701.97,738.83 L702.42,737.90 L702.59,736.03 L703.07,737.73 L703.47,737.44 L704.01,737.05 L704.42,735.57 L705.15,737.33 L705.55,736.72 L706.38,735.44 L706.62,734.43 L706.63,738.63 L707.10,734.16 L707.65,732.76 L708.58,733.04 L709.01,733.93 L708.95,733.32 L709.81,731.39 L710.13,731.94 L710.39,730.72 L710.68,730.62 L711.66,730.99 L711.76,730.87 L712.25,728.67 L712.71,730.05 L713.14,729.12 L714.07,728.72 L714.32,728.95 L715.01,726.66 L714.79,726.43 L715.81,726.34 L715.84,727.27 L716.06,725.33 L716.75,724.64 L717.00,723.99 L717.77,725.24 L717.68,723.26 L718.69,722.71 L719.01,722.12 L719.00,722.02 L719.44,721.20 L719.67,722.58 L720.25,721.67 L720.70,719.50 L720.80,721.25 L721.25,720.17 L721.60,718.48 L722.16,719.01 L722.87,721.36 L723.08,716.72 L723.60,717.98 L723.59,716.76 L724.23,716.86 L724.88,714.81 L724.91,714.32 L725.36,714.45 L725.63,714.59 L726.25,716.14 L726.49,713.06 L727.09,713.67 L727.71,713.65 L727.77,712.15 L728.22,712.25 L728.54,710.53 L729.57,711.49 L730.18,709.63 L730.09,707.33 L730.59,710.88 L730.98,709.11 L731.56,710.27 L732.46,707.97 L732.48,708.16 L733.18,706.86 L733.36,706.82 L733.80,707.78 L734.45,707.38 L734.99,706.20 L735.53,704.94 L736.32,707.67 L736.46,704.23 L737.10,704.83 L737.36,706.41 L737.87,703.07 L738.65,703.96 L738.47,702.50 L739.51,702.34 L739.69,702.48 L740.35,703.04 L740.22,700.70 L740.67,703.39 L741.62,700.49 L742.00,699.71 L742.08,699.04 L742.48,699.91 L742.95,698.59 L743.53,695.91 L743.55,697.19 L744.17,698.05 L744.56,696.85 L745.07,696.26 L745.28,696.38 L746.21,695.13 L746.43,696.48 L746.70,695.54 L747.26,694.73 L747.83,694.15 L747.76,693.55 L748.20,692.41 L749.28,692.79 L749.25,693.73 L749.50,691.04 L750.17,691.35 L750.29,690.37 L750.73,690.37 L751.06,686.18 L751.56,688.57 L751.73,689.21 L751.80,687.81 L752.37,688.58 L752.52,688.31 L752.93,687.96 L753.85,687.63 L754.16,687.27 L753.99,686.73 L754.43,685.54 L754.60,684.81 L755.06,683.19 L755.81,684.44 L756.03,682.96 L756.49,685.78 L756.38,682.70 L757.14,682.54 L757.33,682.03 L757.76,679.89 L757.59,679.12 L758.39,679.76 L758.43,678.72 L759.20,678.12 L759.48,678.74 L759.76,678.10 L759.60,677.14 L760.02,676.05 L760.33,676.18 L761.17,675.06 L761.23,674.20 L761.57,674.37 L762.15,675.01 L762.74,670.10 L763.54,674.08 L763.51,672.46 L764.06,674.31 L764.70,674.00 L765.67,672.31 L766.08,671.46 L766.44,670.82 L766.88,671.92 L767.27,670.29 L768.17,671.70 L768.43,669.69 L769.30,670.64 L769.62,671.66 L769.83,669.65 L770.22,669.00 L771.04,668.38 L771.52,667.75 L771.84,669.52 L772.71,667.55 L773.24,668.39 L773.68,666.47 L773.49,666.37 L774.30,666.86 L774.72,665.22 L775.04,665.35 L775.46,663.80 L775.61,663.57 L776.01,664.38 L776.99,664.24 L776.84,661.91 L777.66,663.08 L777.87,662.40 L778.19,660.74 L778.66,661.34 L778.96,660.71 L779.46,663.52 L780.31,660.76 L780.63,659.68 L780.70,659.42 L781.30,658.53" fill="none" stroke="#d21ad6" stroke-width="1.9"/>
<text x="403.83" y="783.70" font-size="14.5" font-weight="bold" fill="#000" >0</text>
<text x="661.03" y="784.90" font-size="14.5" font-weight="bold" fill="#000" >0</text>
<text x="133.73" y="786.60" font-size="14.5" font-weight="bold" fill="#000" >0</text>
</svg></body></html>
